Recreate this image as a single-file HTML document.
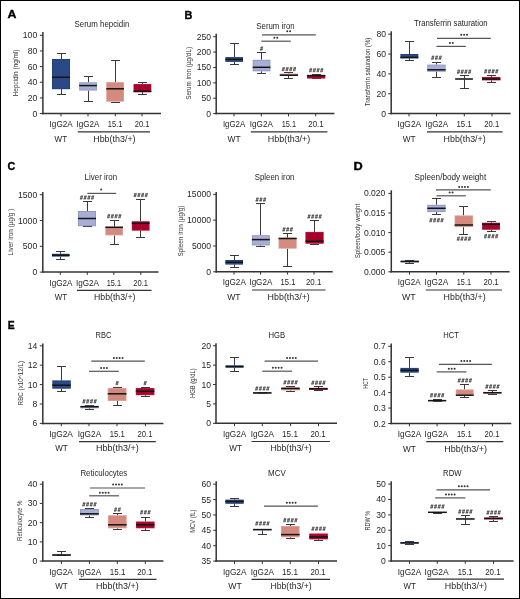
<!DOCTYPE html>
<html><head><meta charset="utf-8"><style>
html,body{margin:0;padding:0;background:#fff;}
#fig{position:relative;width:520px;height:599px;overflow:hidden;background:#fff;}
#fig svg{position:absolute;left:0;top:0;will-change:transform;}
text{font-family:"Liberation Sans", sans-serif;}
</style></head><body><div id="fig">
<svg width="520" height="599" viewBox="0 0 520 599">
<rect x="0.5" y="0.5" width="519" height="598" fill="none" stroke="#000" stroke-width="1"/>
<text x="74.60" y="27.00" font-size="8.6" text-anchor="start" fill="#262626" color="#262626" textLength="54.80" lengthAdjust="spacingAndGlyphs">Serum hepcidin</text>
<line x1="42.90" y1="32.00" x2="42.90" y2="114.35" stroke="#333333" stroke-width="1.5"/>
<line x1="42.15" y1="113.60" x2="161.00" y2="113.60" stroke="#333333" stroke-width="1.5"/>
<line x1="39.90" y1="113.60" x2="42.90" y2="113.60" stroke="#333333" stroke-width="1"/>
<text x="37.20" y="116.60" font-size="8.6" text-anchor="end" fill="#262626" color="#262626">0</text>
<line x1="39.90" y1="97.94" x2="42.90" y2="97.94" stroke="#333333" stroke-width="1"/>
<text x="37.20" y="100.94" font-size="8.6" text-anchor="end" fill="#262626" color="#262626">20</text>
<line x1="39.90" y1="82.28" x2="42.90" y2="82.28" stroke="#333333" stroke-width="1"/>
<text x="37.20" y="85.28" font-size="8.6" text-anchor="end" fill="#262626" color="#262626">40</text>
<line x1="39.90" y1="66.62" x2="42.90" y2="66.62" stroke="#333333" stroke-width="1"/>
<text x="37.20" y="69.62" font-size="8.6" text-anchor="end" fill="#262626" color="#262626">60</text>
<line x1="39.90" y1="50.96" x2="42.90" y2="50.96" stroke="#333333" stroke-width="1"/>
<text x="37.20" y="53.96" font-size="8.6" text-anchor="end" fill="#262626" color="#262626">80</text>
<line x1="39.90" y1="35.30" x2="42.90" y2="35.30" stroke="#333333" stroke-width="1"/>
<text x="37.20" y="38.30" font-size="8.6" text-anchor="end" fill="#262626" color="#262626">100</text>
<line x1="61.00" y1="113.60" x2="61.00" y2="116.40" stroke="#333333" stroke-width="1"/>
<line x1="88.00" y1="113.60" x2="88.00" y2="116.40" stroke="#333333" stroke-width="1"/>
<line x1="115.30" y1="113.60" x2="115.30" y2="116.40" stroke="#333333" stroke-width="1"/>
<line x1="142.00" y1="113.60" x2="142.00" y2="116.40" stroke="#333333" stroke-width="1"/>
<text x="61.15" y="127.10" font-size="8.8" text-anchor="middle" fill="#262626" color="#262626" textLength="23.10" lengthAdjust="spacingAndGlyphs">IgG2A</text>
<text x="88.05" y="127.10" font-size="8.8" text-anchor="middle" fill="#262626" color="#262626" textLength="22.90" lengthAdjust="spacingAndGlyphs">IgG2A</text>
<text x="115.10" y="127.10" font-size="8.8" text-anchor="middle" fill="#262626" color="#262626" textLength="14.60" lengthAdjust="spacingAndGlyphs">15.1</text>
<text x="142.05" y="127.10" font-size="8.8" text-anchor="middle" fill="#262626" color="#262626" textLength="14.70" lengthAdjust="spacingAndGlyphs">20.1</text>
<line x1="77.80" y1="131.80" x2="150.00" y2="131.80" stroke="#333" stroke-width="1.2"/>
<text x="60.85" y="141.60" font-size="8.8" text-anchor="middle" fill="#262626" color="#262626" textLength="12.50" lengthAdjust="spacingAndGlyphs">WT</text>
<text x="114.40" y="141.60" font-size="8.8" text-anchor="middle" fill="#262626" color="#262626" textLength="42.40" lengthAdjust="spacingAndGlyphs">Hbb(th3/+)</text>
<text transform="translate(17.90,72.95) rotate(-90)" x="0" y="0" font-size="7.9" text-anchor="middle" fill="#333" color="#333" textLength="46.70" lengthAdjust="spacingAndGlyphs">Hepcidin (ng/ml)</text>
<line x1="61.50" y1="53.50" x2="61.50" y2="59.00" stroke="#3a3a3a" stroke-width="1"/>
<line x1="61.50" y1="89.20" x2="61.50" y2="94.50" stroke="#3a3a3a" stroke-width="1"/>
<line x1="57.00" y1="53.50" x2="66.00" y2="53.50" stroke="#3a3a3a" stroke-width="1"/>
<line x1="57.00" y1="94.50" x2="66.00" y2="94.50" stroke="#3a3a3a" stroke-width="1"/>
<rect x="52.00" y="59.00" width="18.00" height="30.20" fill="#213d72"/>
<rect x="52.80" y="59.80" width="16.40" height="28.60" fill="#2b4a85"/>
<line x1="52.00" y1="77.30" x2="70.00" y2="77.30" stroke="#141414" stroke-width="1.5"/>
<line x1="88.50" y1="76.50" x2="88.50" y2="82.30" stroke="#3a3a3a" stroke-width="1"/>
<line x1="88.50" y1="90.50" x2="88.50" y2="101.50" stroke="#3a3a3a" stroke-width="1"/>
<line x1="84.00" y1="76.50" x2="93.00" y2="76.50" stroke="#3a3a3a" stroke-width="1"/>
<line x1="84.00" y1="101.50" x2="93.00" y2="101.50" stroke="#3a3a3a" stroke-width="1"/>
<rect x="79.20" y="82.30" width="17.70" height="8.20" fill="#8c93c2"/>
<rect x="80.00" y="83.10" width="16.10" height="6.60" fill="#a8aed4"/>
<line x1="79.20" y1="85.60" x2="96.90" y2="85.60" stroke="#141414" stroke-width="1.5"/>
<line x1="115.50" y1="60.50" x2="115.50" y2="82.10" stroke="#3a3a3a" stroke-width="1"/>
<line x1="115.50" y1="101.70" x2="115.50" y2="102.50" stroke="#3a3a3a" stroke-width="1"/>
<line x1="111.00" y1="60.50" x2="120.00" y2="60.50" stroke="#3a3a3a" stroke-width="1"/>
<line x1="111.00" y1="102.50" x2="120.00" y2="102.50" stroke="#3a3a3a" stroke-width="1"/>
<rect x="106.20" y="82.10" width="17.80" height="19.60" fill="#e0a298"/>
<rect x="107.00" y="82.90" width="16.20" height="18.00" fill="#d38a7f"/>
<line x1="106.20" y1="88.80" x2="124.00" y2="88.80" stroke="#141414" stroke-width="1.5"/>
<line x1="142.50" y1="82.50" x2="142.50" y2="84.00" stroke="#3a3a3a" stroke-width="1"/>
<line x1="142.50" y1="92.30" x2="142.50" y2="94.50" stroke="#3a3a3a" stroke-width="1"/>
<line x1="138.00" y1="82.50" x2="147.00" y2="82.50" stroke="#3a3a3a" stroke-width="1"/>
<line x1="138.00" y1="94.50" x2="147.00" y2="94.50" stroke="#3a3a3a" stroke-width="1"/>
<rect x="133.50" y="84.00" width="17.80" height="8.30" fill="#b8183c"/>
<rect x="134.30" y="84.80" width="16.20" height="6.70" fill="#a8002a"/>
<line x1="133.50" y1="91.30" x2="151.30" y2="91.30" stroke="#141414" stroke-width="1.5"/>
<text x="256.30" y="28.80" font-size="8.6" text-anchor="start" fill="#262626" color="#262626" textLength="38.30" lengthAdjust="spacingAndGlyphs">Serum iron</text>
<line x1="216.20" y1="33.80" x2="216.20" y2="114.35" stroke="#333333" stroke-width="1.5"/>
<line x1="215.45" y1="113.60" x2="334.40" y2="113.60" stroke="#333333" stroke-width="1.5"/>
<line x1="213.20" y1="113.60" x2="216.20" y2="113.60" stroke="#333333" stroke-width="1"/>
<text x="211.00" y="116.60" font-size="8.6" text-anchor="end" fill="#262626" color="#262626">0</text>
<line x1="213.20" y1="98.22" x2="216.20" y2="98.22" stroke="#333333" stroke-width="1"/>
<text x="211.00" y="101.22" font-size="8.6" text-anchor="end" fill="#262626" color="#262626">50</text>
<line x1="213.20" y1="82.84" x2="216.20" y2="82.84" stroke="#333333" stroke-width="1"/>
<text x="211.00" y="85.84" font-size="8.6" text-anchor="end" fill="#262626" color="#262626">100</text>
<line x1="213.20" y1="67.46" x2="216.20" y2="67.46" stroke="#333333" stroke-width="1"/>
<text x="211.00" y="70.46" font-size="8.6" text-anchor="end" fill="#262626" color="#262626">150</text>
<line x1="213.20" y1="52.08" x2="216.20" y2="52.08" stroke="#333333" stroke-width="1"/>
<text x="211.00" y="55.08" font-size="8.6" text-anchor="end" fill="#262626" color="#262626">200</text>
<line x1="213.20" y1="36.70" x2="216.20" y2="36.70" stroke="#333333" stroke-width="1"/>
<text x="211.00" y="39.70" font-size="8.6" text-anchor="end" fill="#262626" color="#262626">250</text>
<line x1="234.00" y1="113.60" x2="234.00" y2="116.40" stroke="#333333" stroke-width="1"/>
<line x1="261.30" y1="113.60" x2="261.30" y2="116.40" stroke="#333333" stroke-width="1"/>
<line x1="288.50" y1="113.60" x2="288.50" y2="116.40" stroke="#333333" stroke-width="1"/>
<line x1="315.70" y1="113.60" x2="315.70" y2="116.40" stroke="#333333" stroke-width="1"/>
<text x="234.05" y="127.10" font-size="8.8" text-anchor="middle" fill="#262626" color="#262626" textLength="22.30" lengthAdjust="spacingAndGlyphs">IgG2A</text>
<text x="261.35" y="127.10" font-size="8.8" text-anchor="middle" fill="#262626" color="#262626" textLength="23.10" lengthAdjust="spacingAndGlyphs">IgG2A</text>
<text x="288.85" y="127.10" font-size="8.8" text-anchor="middle" fill="#262626" color="#262626" textLength="14.30" lengthAdjust="spacingAndGlyphs">15.1</text>
<text x="316.00" y="127.10" font-size="8.8" text-anchor="middle" fill="#262626" color="#262626" textLength="15.40" lengthAdjust="spacingAndGlyphs">20.1</text>
<line x1="250.80" y1="131.80" x2="327.40" y2="131.80" stroke="#333" stroke-width="1.2"/>
<text x="234.05" y="141.60" font-size="8.8" text-anchor="middle" fill="#262626" color="#262626" textLength="13.10" lengthAdjust="spacingAndGlyphs">WT</text>
<text x="289.05" y="141.60" font-size="8.8" text-anchor="middle" fill="#262626" color="#262626" textLength="42.50" lengthAdjust="spacingAndGlyphs">Hbb(th3/+)</text>
<text transform="translate(190.80,73.40) rotate(-90)" x="0" y="0" font-size="7.9" text-anchor="middle" fill="#333" color="#333" textLength="52.80" lengthAdjust="spacingAndGlyphs">Serum iron (µg/dL)</text>
<line x1="234.50" y1="43.50" x2="234.50" y2="57.10" stroke="#3a3a3a" stroke-width="1"/>
<line x1="234.50" y1="61.90" x2="234.50" y2="64.50" stroke="#3a3a3a" stroke-width="1"/>
<line x1="230.00" y1="43.50" x2="239.00" y2="43.50" stroke="#3a3a3a" stroke-width="1"/>
<line x1="230.00" y1="64.50" x2="239.00" y2="64.50" stroke="#3a3a3a" stroke-width="1"/>
<rect x="225.40" y="57.10" width="17.60" height="4.80" fill="#213d72"/>
<rect x="226.20" y="57.90" width="16.00" height="3.20" fill="#2b4a85"/>
<line x1="225.40" y1="59.40" x2="243.00" y2="59.40" stroke="#141414" stroke-width="1.5"/>
<line x1="261.50" y1="52.50" x2="261.50" y2="59.80" stroke="#3a3a3a" stroke-width="1"/>
<line x1="261.50" y1="71.30" x2="261.50" y2="73.50" stroke="#3a3a3a" stroke-width="1"/>
<line x1="257.00" y1="52.50" x2="266.00" y2="52.50" stroke="#3a3a3a" stroke-width="1"/>
<line x1="257.00" y1="73.50" x2="266.00" y2="73.50" stroke="#3a3a3a" stroke-width="1"/>
<rect x="252.70" y="59.80" width="17.70" height="11.50" fill="#8c93c2"/>
<rect x="253.50" y="60.60" width="16.10" height="9.90" fill="#a8aed4"/>
<line x1="252.70" y1="67.30" x2="270.40" y2="67.30" stroke="#141414" stroke-width="1.5"/>
<path d="M260.50,50.70L261.50,46.50M261.70,50.70L262.70,46.50M260.46,47.70L263.06,47.70M260.04,49.50L262.64,49.50" fill="none" stroke="#4a4a4a" stroke-width="0.8"/>
<line x1="288.50" y1="72.50" x2="288.50" y2="73.50" stroke="#3a3a3a" stroke-width="1"/>
<line x1="288.50" y1="75.80" x2="288.50" y2="78.50" stroke="#3a3a3a" stroke-width="1"/>
<line x1="284.00" y1="72.50" x2="293.00" y2="72.50" stroke="#3a3a3a" stroke-width="1"/>
<line x1="284.00" y1="78.50" x2="293.00" y2="78.50" stroke="#3a3a3a" stroke-width="1"/>
<rect x="279.80" y="73.50" width="18.20" height="2.30" fill="#e0a298"/>
<rect x="280.60" y="74.30" width="16.60" height="0.70" fill="#d38a7f"/>
<line x1="279.80" y1="75.20" x2="298.00" y2="75.20" stroke="#141414" stroke-width="1.5"/>
<path d="M282.27,71.20L283.27,67.00M283.47,71.20L284.47,67.00M282.23,68.20L284.83,68.20M281.81,70.00L284.41,70.00M285.99,71.20L286.99,67.00M287.19,71.20L288.19,67.00M285.95,68.20L288.55,68.20M285.53,70.00L288.13,70.00M289.71,71.20L290.71,67.00M290.91,71.20L291.91,67.00M289.67,68.20L292.27,68.20M289.25,70.00L291.85,70.00M293.43,71.20L294.43,67.00M294.63,71.20L295.63,67.00M293.39,68.20L295.99,68.20M292.97,70.00L295.57,70.00" fill="none" stroke="#4a4a4a" stroke-width="0.8"/>
<line x1="316.50" y1="74.50" x2="316.50" y2="75.00" stroke="#3a3a3a" stroke-width="1"/>
<line x1="316.50" y1="78.60" x2="316.50" y2="78.50" stroke="#3a3a3a" stroke-width="1"/>
<line x1="312.00" y1="74.50" x2="321.00" y2="74.50" stroke="#3a3a3a" stroke-width="1"/>
<line x1="312.00" y1="78.50" x2="321.00" y2="78.50" stroke="#3a3a3a" stroke-width="1"/>
<rect x="307.00" y="75.00" width="18.30" height="3.60" fill="#b8183c"/>
<rect x="307.80" y="75.80" width="16.70" height="2.00" fill="#a8002a"/>
<line x1="307.00" y1="75.60" x2="325.30" y2="75.60" stroke="#141414" stroke-width="1.5"/>
<path d="M309.52,72.30L310.52,68.10M310.72,72.30L311.72,68.10M309.48,69.30L312.08,69.30M309.06,71.10L311.66,71.10M313.24,72.30L314.24,68.10M314.44,72.30L315.44,68.10M313.20,69.30L315.80,69.30M312.78,71.10L315.38,71.10M316.96,72.30L317.96,68.10M318.16,72.30L319.16,68.10M316.92,69.30L319.52,69.30M316.50,71.10L319.10,71.10M320.68,72.30L321.68,68.10M321.88,72.30L322.88,68.10M320.64,69.30L323.24,69.30M320.22,71.10L322.82,71.10" fill="none" stroke="#4a4a4a" stroke-width="0.8"/>
<line x1="262.00" y1="34.80" x2="315.80" y2="34.80" stroke="#555555" stroke-width="1.2"/>
<circle cx="287.25" cy="31.30" r="1.0" fill="#333"/>
<circle cx="290.15" cy="31.30" r="1.0" fill="#333"/>
<line x1="261.30" y1="41.20" x2="290.80" y2="41.20" stroke="#555555" stroke-width="1.2"/>
<circle cx="274.35" cy="37.70" r="1.0" fill="#333"/>
<circle cx="277.25" cy="37.70" r="1.0" fill="#333"/>
<text x="414.10" y="26.20" font-size="8.6" text-anchor="start" fill="#262626" color="#262626" textLength="73.50" lengthAdjust="spacingAndGlyphs">Transferrin saturation</text>
<line x1="391.20" y1="31.30" x2="391.20" y2="114.35" stroke="#333333" stroke-width="1.5"/>
<line x1="390.45" y1="113.60" x2="510.60" y2="113.60" stroke="#333333" stroke-width="1.5"/>
<line x1="388.20" y1="113.60" x2="391.20" y2="113.60" stroke="#333333" stroke-width="1"/>
<text x="386.00" y="116.60" font-size="8.6" text-anchor="end" fill="#262626" color="#262626">0</text>
<line x1="388.20" y1="93.75" x2="391.20" y2="93.75" stroke="#333333" stroke-width="1"/>
<text x="386.00" y="96.75" font-size="8.6" text-anchor="end" fill="#262626" color="#262626">20</text>
<line x1="388.20" y1="73.90" x2="391.20" y2="73.90" stroke="#333333" stroke-width="1"/>
<text x="386.00" y="76.90" font-size="8.6" text-anchor="end" fill="#262626" color="#262626">40</text>
<line x1="388.20" y1="54.05" x2="391.20" y2="54.05" stroke="#333333" stroke-width="1"/>
<text x="386.00" y="57.05" font-size="8.6" text-anchor="end" fill="#262626" color="#262626">60</text>
<line x1="388.20" y1="34.20" x2="391.20" y2="34.20" stroke="#333333" stroke-width="1"/>
<text x="386.00" y="37.20" font-size="8.6" text-anchor="end" fill="#262626" color="#262626">80</text>
<line x1="409.00" y1="113.60" x2="409.00" y2="116.40" stroke="#333333" stroke-width="1"/>
<line x1="436.50" y1="113.60" x2="436.50" y2="116.40" stroke="#333333" stroke-width="1"/>
<line x1="464.30" y1="113.60" x2="464.30" y2="116.40" stroke="#333333" stroke-width="1"/>
<line x1="492.00" y1="113.60" x2="492.00" y2="116.40" stroke="#333333" stroke-width="1"/>
<text x="409.25" y="127.10" font-size="8.8" text-anchor="middle" fill="#262626" color="#262626" textLength="23.90" lengthAdjust="spacingAndGlyphs">IgG2A</text>
<text x="436.80" y="127.10" font-size="8.8" text-anchor="middle" fill="#262626" color="#262626" textLength="22.40" lengthAdjust="spacingAndGlyphs">IgG2A</text>
<text x="464.10" y="127.10" font-size="8.8" text-anchor="middle" fill="#262626" color="#262626" textLength="15.20" lengthAdjust="spacingAndGlyphs">15.1</text>
<text x="491.75" y="127.10" font-size="8.8" text-anchor="middle" fill="#262626" color="#262626" textLength="14.90" lengthAdjust="spacingAndGlyphs">20.1</text>
<line x1="427.00" y1="131.80" x2="502.50" y2="131.80" stroke="#333" stroke-width="1.2"/>
<text x="409.25" y="141.60" font-size="8.8" text-anchor="middle" fill="#262626" color="#262626" textLength="12.90" lengthAdjust="spacingAndGlyphs">WT</text>
<text x="464.65" y="141.60" font-size="8.8" text-anchor="middle" fill="#262626" color="#262626" textLength="42.10" lengthAdjust="spacingAndGlyphs">Hbb(th3/+)</text>
<text transform="translate(369.90,72.00) rotate(-90)" x="0" y="0" font-size="7.9" text-anchor="middle" fill="#333" color="#333" textLength="68.60" lengthAdjust="spacingAndGlyphs">Transferrin saturation (%)</text>
<line x1="409.50" y1="41.50" x2="409.50" y2="54.00" stroke="#3a3a3a" stroke-width="1"/>
<line x1="409.50" y1="58.40" x2="409.50" y2="60.50" stroke="#3a3a3a" stroke-width="1"/>
<line x1="405.00" y1="41.50" x2="414.00" y2="41.50" stroke="#3a3a3a" stroke-width="1"/>
<line x1="405.00" y1="60.50" x2="414.00" y2="60.50" stroke="#3a3a3a" stroke-width="1"/>
<rect x="400.40" y="54.00" width="17.90" height="4.40" fill="#213d72"/>
<rect x="401.20" y="54.80" width="16.30" height="2.80" fill="#2b4a85"/>
<line x1="400.40" y1="57.40" x2="418.30" y2="57.40" stroke="#141414" stroke-width="1.5"/>
<line x1="436.50" y1="62.50" x2="436.50" y2="64.60" stroke="#3a3a3a" stroke-width="1"/>
<line x1="436.50" y1="71.70" x2="436.50" y2="77.50" stroke="#3a3a3a" stroke-width="1"/>
<line x1="432.00" y1="62.50" x2="441.00" y2="62.50" stroke="#3a3a3a" stroke-width="1"/>
<line x1="432.00" y1="77.50" x2="441.00" y2="77.50" stroke="#3a3a3a" stroke-width="1"/>
<rect x="427.30" y="64.60" width="18.30" height="7.10" fill="#8c93c2"/>
<rect x="428.10" y="65.40" width="16.70" height="5.50" fill="#a8aed4"/>
<line x1="427.30" y1="69.80" x2="445.60" y2="69.80" stroke="#141414" stroke-width="1.5"/>
<path d="M431.68,59.80L432.68,55.60M432.88,59.80L433.88,55.60M431.64,56.80L434.24,56.80M431.22,58.60L433.82,58.60M435.40,59.80L436.40,55.60M436.60,59.80L437.60,55.60M435.36,56.80L437.96,56.80M434.94,58.60L437.54,58.60M439.12,59.80L440.12,55.60M440.32,59.80L441.32,55.60M439.08,56.80L441.68,56.80M438.66,58.60L441.26,58.60" fill="none" stroke="#4a4a4a" stroke-width="0.8"/>
<line x1="464.50" y1="75.50" x2="464.50" y2="78.60" stroke="#3a3a3a" stroke-width="1"/>
<line x1="464.50" y1="79.40" x2="464.50" y2="88.50" stroke="#3a3a3a" stroke-width="1"/>
<line x1="460.00" y1="75.50" x2="469.00" y2="75.50" stroke="#3a3a3a" stroke-width="1"/>
<line x1="460.00" y1="88.50" x2="469.00" y2="88.50" stroke="#3a3a3a" stroke-width="1"/>
<rect x="455.20" y="78.60" width="17.70" height="0.80" fill="#e0a298"/>
<line x1="455.20" y1="79.00" x2="472.90" y2="79.00" stroke="#141414" stroke-width="1.5"/>
<path d="M457.42,73.80L458.42,69.60M458.62,73.80L459.62,69.60M457.38,70.80L459.98,70.80M456.96,72.60L459.56,72.60M461.14,73.80L462.14,69.60M462.34,73.80L463.34,69.60M461.10,70.80L463.70,70.80M460.68,72.60L463.28,72.60M464.86,73.80L465.86,69.60M466.06,73.80L467.06,69.60M464.82,70.80L467.42,70.80M464.40,72.60L467.00,72.60M468.58,73.80L469.58,69.60M469.78,73.80L470.78,69.60M468.54,70.80L471.14,70.80M468.12,72.60L470.72,72.60" fill="none" stroke="#4a4a4a" stroke-width="0.8"/>
<line x1="491.50" y1="75.50" x2="491.50" y2="76.90" stroke="#3a3a3a" stroke-width="1"/>
<line x1="491.50" y1="80.40" x2="491.50" y2="82.50" stroke="#3a3a3a" stroke-width="1"/>
<line x1="487.00" y1="75.50" x2="496.00" y2="75.50" stroke="#3a3a3a" stroke-width="1"/>
<line x1="487.00" y1="82.50" x2="496.00" y2="82.50" stroke="#3a3a3a" stroke-width="1"/>
<rect x="482.00" y="76.90" width="18.40" height="3.50" fill="#b8183c"/>
<rect x="482.80" y="77.70" width="16.80" height="1.90" fill="#a8002a"/>
<line x1="482.00" y1="79.00" x2="500.40" y2="79.00" stroke="#141414" stroke-width="1.5"/>
<path d="M484.57,73.40L485.57,69.20M485.77,73.40L486.77,69.20M484.53,70.40L487.13,70.40M484.11,72.20L486.71,72.20M488.29,73.40L489.29,69.20M489.49,73.40L490.49,69.20M488.25,70.40L490.85,70.40M487.83,72.20L490.43,72.20M492.01,73.40L493.01,69.20M493.21,73.40L494.21,69.20M491.97,70.40L494.57,70.40M491.55,72.20L494.15,72.20M495.73,73.40L496.73,69.20M496.93,73.40L497.93,69.20M495.69,70.40L498.29,70.40M495.27,72.20L497.87,72.20" fill="none" stroke="#4a4a4a" stroke-width="0.8"/>
<line x1="437.00" y1="38.30" x2="490.80" y2="38.30" stroke="#555555" stroke-width="1.2"/>
<circle cx="461.20" cy="34.70" r="1.0" fill="#333"/>
<circle cx="464.10" cy="34.70" r="1.0" fill="#333"/>
<circle cx="467.00" cy="34.70" r="1.0" fill="#333"/>
<line x1="436.50" y1="46.40" x2="465.80" y2="46.40" stroke="#555555" stroke-width="1.2"/>
<circle cx="449.85" cy="43.00" r="1.0" fill="#333"/>
<circle cx="452.75" cy="43.00" r="1.0" fill="#333"/>
<text x="84.60" y="180.00" font-size="8.6" text-anchor="start" fill="#262626" color="#262626" textLength="32.60" lengthAdjust="spacingAndGlyphs">Liver iron</text>
<line x1="42.80" y1="191.90" x2="42.80" y2="272.85" stroke="#333333" stroke-width="1.5"/>
<line x1="42.05" y1="272.10" x2="158.50" y2="272.10" stroke="#333333" stroke-width="1.5"/>
<line x1="39.80" y1="272.10" x2="42.80" y2="272.10" stroke="#333333" stroke-width="1"/>
<text x="37.20" y="275.10" font-size="8.6" text-anchor="end" fill="#262626" color="#262626">0</text>
<line x1="39.80" y1="246.30" x2="42.80" y2="246.30" stroke="#333333" stroke-width="1"/>
<text x="37.20" y="249.30" font-size="8.6" text-anchor="end" fill="#262626" color="#262626">500</text>
<line x1="39.80" y1="220.50" x2="42.80" y2="220.50" stroke="#333333" stroke-width="1"/>
<text x="37.20" y="223.50" font-size="8.6" text-anchor="end" fill="#262626" color="#262626">1000</text>
<line x1="39.80" y1="194.70" x2="42.80" y2="194.70" stroke="#333333" stroke-width="1"/>
<text x="37.20" y="197.70" font-size="8.6" text-anchor="end" fill="#262626" color="#262626">1500</text>
<line x1="60.30" y1="272.10" x2="60.30" y2="274.90" stroke="#333333" stroke-width="1"/>
<line x1="87.30" y1="272.10" x2="87.30" y2="274.90" stroke="#333333" stroke-width="1"/>
<line x1="113.80" y1="272.10" x2="113.80" y2="274.90" stroke="#333333" stroke-width="1"/>
<line x1="140.80" y1="272.10" x2="140.80" y2="274.90" stroke="#333333" stroke-width="1"/>
<text x="61.00" y="285.60" font-size="8.8" text-anchor="middle" fill="#262626" color="#262626" textLength="23.00" lengthAdjust="spacingAndGlyphs">IgG2A</text>
<text x="87.50" y="285.60" font-size="8.8" text-anchor="middle" fill="#262626" color="#262626" textLength="23.00" lengthAdjust="spacingAndGlyphs">IgG2A</text>
<text x="113.85" y="285.60" font-size="8.8" text-anchor="middle" fill="#262626" color="#262626" textLength="14.30" lengthAdjust="spacingAndGlyphs">15.1</text>
<text x="140.65" y="285.60" font-size="8.8" text-anchor="middle" fill="#262626" color="#262626" textLength="14.70" lengthAdjust="spacingAndGlyphs">20.1</text>
<line x1="76.90" y1="290.30" x2="151.50" y2="290.30" stroke="#333" stroke-width="1.2"/>
<text x="61.00" y="300.10" font-size="8.8" text-anchor="middle" fill="#262626" color="#262626" textLength="12.40" lengthAdjust="spacingAndGlyphs">WT</text>
<text x="114.75" y="300.10" font-size="8.8" text-anchor="middle" fill="#262626" color="#262626" textLength="41.50" lengthAdjust="spacingAndGlyphs">Hbb(th3/+)</text>
<text transform="translate(13.40,232.10) rotate(-90)" x="0" y="0" font-size="7.9" text-anchor="middle" fill="#333" color="#333" textLength="46.60" lengthAdjust="spacingAndGlyphs">Liver iron (µg/g )</text>
<line x1="60.50" y1="251.50" x2="60.50" y2="253.80" stroke="#3a3a3a" stroke-width="1"/>
<line x1="60.50" y1="256.60" x2="60.50" y2="259.50" stroke="#3a3a3a" stroke-width="1"/>
<line x1="56.00" y1="251.50" x2="65.00" y2="251.50" stroke="#3a3a3a" stroke-width="1"/>
<line x1="56.00" y1="259.50" x2="65.00" y2="259.50" stroke="#3a3a3a" stroke-width="1"/>
<rect x="52.00" y="253.80" width="17.50" height="2.80" fill="#213d72"/>
<rect x="52.80" y="254.60" width="15.90" height="1.20" fill="#2b4a85"/>
<line x1="52.00" y1="255.20" x2="69.50" y2="255.20" stroke="#141414" stroke-width="1.5"/>
<line x1="87.50" y1="201.50" x2="87.50" y2="211.00" stroke="#3a3a3a" stroke-width="1"/>
<line x1="87.50" y1="226.20" x2="87.50" y2="226.50" stroke="#3a3a3a" stroke-width="1"/>
<line x1="83.00" y1="201.50" x2="92.00" y2="201.50" stroke="#3a3a3a" stroke-width="1"/>
<line x1="83.00" y1="226.50" x2="92.00" y2="226.50" stroke="#3a3a3a" stroke-width="1"/>
<rect x="78.00" y="211.00" width="18.00" height="15.20" fill="#8c93c2"/>
<rect x="78.80" y="211.80" width="16.40" height="13.60" fill="#a8aed4"/>
<line x1="78.00" y1="218.50" x2="96.00" y2="218.50" stroke="#141414" stroke-width="1.5"/>
<path d="M80.37,199.60L81.37,195.40M81.57,199.60L82.57,195.40M80.33,196.60L82.93,196.60M79.91,198.40L82.51,198.40M84.09,199.60L85.09,195.40M85.29,199.60L86.29,195.40M84.05,196.60L86.65,196.60M83.63,198.40L86.23,198.40M87.81,199.60L88.81,195.40M89.01,199.60L90.01,195.40M87.77,196.60L90.37,196.60M87.35,198.40L89.95,198.40M91.53,199.60L92.53,195.40M92.73,199.60L93.73,195.40M91.49,196.60L94.09,196.60M91.07,198.40L93.67,198.40" fill="none" stroke="#4a4a4a" stroke-width="0.8"/>
<line x1="114.50" y1="220.50" x2="114.50" y2="226.80" stroke="#3a3a3a" stroke-width="1"/>
<line x1="114.50" y1="235.40" x2="114.50" y2="244.50" stroke="#3a3a3a" stroke-width="1"/>
<line x1="110.00" y1="220.50" x2="119.00" y2="220.50" stroke="#3a3a3a" stroke-width="1"/>
<line x1="110.00" y1="244.50" x2="119.00" y2="244.50" stroke="#3a3a3a" stroke-width="1"/>
<rect x="105.30" y="226.80" width="17.70" height="8.60" fill="#e0a298"/>
<rect x="106.10" y="227.60" width="16.10" height="7.00" fill="#d38a7f"/>
<line x1="105.30" y1="227.30" x2="123.00" y2="227.30" stroke="#141414" stroke-width="1.5"/>
<path d="M107.52,218.30L108.52,214.10M108.72,218.30L109.72,214.10M107.48,215.30L110.08,215.30M107.06,217.10L109.66,217.10M111.24,218.30L112.24,214.10M112.44,218.30L113.44,214.10M111.20,215.30L113.80,215.30M110.78,217.10L113.38,217.10M114.96,218.30L115.96,214.10M116.16,218.30L117.16,214.10M114.92,215.30L117.52,215.30M114.50,217.10L117.10,217.10M118.68,218.30L119.68,214.10M119.88,218.30L120.88,214.10M118.64,215.30L121.24,215.30M118.22,217.10L120.82,217.10" fill="none" stroke="#4a4a4a" stroke-width="0.8"/>
<line x1="140.50" y1="199.50" x2="140.50" y2="221.20" stroke="#3a3a3a" stroke-width="1"/>
<line x1="140.50" y1="230.70" x2="140.50" y2="237.50" stroke="#3a3a3a" stroke-width="1"/>
<line x1="136.00" y1="199.50" x2="145.00" y2="199.50" stroke="#3a3a3a" stroke-width="1"/>
<line x1="136.00" y1="237.50" x2="145.00" y2="237.50" stroke="#3a3a3a" stroke-width="1"/>
<rect x="131.80" y="221.20" width="17.80" height="9.50" fill="#b8183c"/>
<rect x="132.60" y="222.00" width="16.20" height="7.90" fill="#a8002a"/>
<line x1="131.80" y1="223.30" x2="149.60" y2="223.30" stroke="#141414" stroke-width="1.5"/>
<path d="M134.07,197.10L135.07,192.90M135.27,197.10L136.27,192.90M134.03,194.10L136.63,194.10M133.61,195.90L136.21,195.90M137.79,197.10L138.79,192.90M138.99,197.10L139.99,192.90M137.75,194.10L140.35,194.10M137.33,195.90L139.93,195.90M141.51,197.10L142.51,192.90M142.71,197.10L143.71,192.90M141.47,194.10L144.07,194.10M141.05,195.90L143.65,195.90M145.23,197.10L146.23,192.90M146.43,197.10L147.43,192.90M145.19,194.10L147.79,194.10M144.77,195.90L147.37,195.90" fill="none" stroke="#4a4a4a" stroke-width="0.8"/>
<line x1="87.30" y1="193.40" x2="116.20" y2="193.40" stroke="#555555" stroke-width="1.2"/>
<circle cx="101.20" cy="189.40" r="1.0" fill="#333"/>
<text x="254.80" y="180.00" font-size="8.6" text-anchor="start" fill="#262626" color="#262626" textLength="39.60" lengthAdjust="spacingAndGlyphs">Spleen iron</text>
<line x1="216.20" y1="192.10" x2="216.20" y2="272.55" stroke="#333333" stroke-width="1.5"/>
<line x1="215.45" y1="271.80" x2="332.70" y2="271.80" stroke="#333333" stroke-width="1.5"/>
<line x1="213.20" y1="271.80" x2="216.20" y2="271.80" stroke="#333333" stroke-width="1"/>
<text x="211.00" y="274.80" font-size="8.6" text-anchor="end" fill="#262626" color="#262626">0</text>
<line x1="213.20" y1="246.00" x2="216.20" y2="246.00" stroke="#333333" stroke-width="1"/>
<text x="211.00" y="249.00" font-size="8.6" text-anchor="end" fill="#262626" color="#262626">5000</text>
<line x1="213.20" y1="220.20" x2="216.20" y2="220.20" stroke="#333333" stroke-width="1"/>
<text x="211.00" y="223.20" font-size="8.6" text-anchor="end" fill="#262626" color="#262626">10000</text>
<line x1="213.20" y1="194.40" x2="216.20" y2="194.40" stroke="#333333" stroke-width="1"/>
<text x="211.00" y="197.40" font-size="8.6" text-anchor="end" fill="#262626" color="#262626">15000</text>
<line x1="234.00" y1="271.80" x2="234.00" y2="274.60" stroke="#333333" stroke-width="1"/>
<line x1="260.60" y1="271.80" x2="260.60" y2="274.60" stroke="#333333" stroke-width="1"/>
<line x1="287.40" y1="271.80" x2="287.40" y2="274.60" stroke="#333333" stroke-width="1"/>
<line x1="314.00" y1="271.80" x2="314.00" y2="274.60" stroke="#333333" stroke-width="1"/>
<text x="234.30" y="285.30" font-size="8.8" text-anchor="middle" fill="#262626" color="#262626" textLength="23.00" lengthAdjust="spacingAndGlyphs">IgG2A</text>
<text x="260.85" y="285.30" font-size="8.8" text-anchor="middle" fill="#262626" color="#262626" textLength="22.90" lengthAdjust="spacingAndGlyphs">IgG2A</text>
<text x="288.00" y="285.30" font-size="8.8" text-anchor="middle" fill="#262626" color="#262626" textLength="14.80" lengthAdjust="spacingAndGlyphs">15.1</text>
<text x="313.60" y="285.30" font-size="8.8" text-anchor="middle" fill="#262626" color="#262626" textLength="15.40" lengthAdjust="spacingAndGlyphs">20.1</text>
<line x1="252.00" y1="290.00" x2="325.50" y2="290.00" stroke="#333" stroke-width="1.2"/>
<text x="233.90" y="299.80" font-size="8.8" text-anchor="middle" fill="#262626" color="#262626" textLength="13.40" lengthAdjust="spacingAndGlyphs">WT</text>
<text x="288.70" y="299.80" font-size="8.8" text-anchor="middle" fill="#262626" color="#262626" textLength="42.20" lengthAdjust="spacingAndGlyphs">Hbb(th3/+)</text>
<text transform="translate(182.80,231.05) rotate(-90)" x="0" y="0" font-size="7.9" text-anchor="middle" fill="#333" color="#333" textLength="50.90" lengthAdjust="spacingAndGlyphs">Spleen iron (µg/g)</text>
<line x1="234.50" y1="255.50" x2="234.50" y2="260.00" stroke="#3a3a3a" stroke-width="1"/>
<line x1="234.50" y1="264.60" x2="234.50" y2="267.50" stroke="#3a3a3a" stroke-width="1"/>
<line x1="230.00" y1="255.50" x2="239.00" y2="255.50" stroke="#3a3a3a" stroke-width="1"/>
<line x1="230.00" y1="267.50" x2="239.00" y2="267.50" stroke="#3a3a3a" stroke-width="1"/>
<rect x="225.40" y="260.00" width="17.60" height="4.60" fill="#213d72"/>
<rect x="226.20" y="260.80" width="16.00" height="3.00" fill="#2b4a85"/>
<line x1="225.40" y1="262.30" x2="243.00" y2="262.30" stroke="#141414" stroke-width="1.5"/>
<line x1="260.50" y1="203.50" x2="260.50" y2="235.20" stroke="#3a3a3a" stroke-width="1"/>
<line x1="260.50" y1="245.40" x2="260.50" y2="246.50" stroke="#3a3a3a" stroke-width="1"/>
<line x1="256.00" y1="203.50" x2="265.00" y2="203.50" stroke="#3a3a3a" stroke-width="1"/>
<line x1="256.00" y1="246.50" x2="265.00" y2="246.50" stroke="#3a3a3a" stroke-width="1"/>
<rect x="251.90" y="235.20" width="17.90" height="10.20" fill="#8c93c2"/>
<rect x="252.70" y="236.00" width="16.30" height="8.60" fill="#a8aed4"/>
<line x1="251.90" y1="239.60" x2="269.80" y2="239.60" stroke="#141414" stroke-width="1.5"/>
<path d="M256.08,201.70L257.08,197.50M257.28,201.70L258.28,197.50M256.04,198.70L258.64,198.70M255.62,200.50L258.22,200.50M259.80,201.70L260.80,197.50M261.00,201.70L262.00,197.50M259.76,198.70L262.36,198.70M259.34,200.50L261.94,200.50M263.52,201.70L264.52,197.50M264.72,201.70L265.72,197.50M263.48,198.70L266.08,198.70M263.06,200.50L265.66,200.50" fill="none" stroke="#4a4a4a" stroke-width="0.8"/>
<line x1="287.50" y1="233.50" x2="287.50" y2="237.70" stroke="#3a3a3a" stroke-width="1"/>
<line x1="287.50" y1="248.70" x2="287.50" y2="266.50" stroke="#3a3a3a" stroke-width="1"/>
<line x1="283.00" y1="233.50" x2="292.00" y2="233.50" stroke="#3a3a3a" stroke-width="1"/>
<line x1="283.00" y1="266.50" x2="292.00" y2="266.50" stroke="#3a3a3a" stroke-width="1"/>
<rect x="278.50" y="237.70" width="18.20" height="11.00" fill="#e0a298"/>
<rect x="279.30" y="238.50" width="16.60" height="9.40" fill="#d38a7f"/>
<line x1="278.50" y1="238.50" x2="296.70" y2="238.50" stroke="#141414" stroke-width="1.5"/>
<path d="M282.83,231.50L283.83,227.30M284.03,231.50L285.03,227.30M282.79,228.50L285.39,228.50M282.37,230.30L284.97,230.30M286.55,231.50L287.55,227.30M287.75,231.50L288.75,227.30M286.51,228.50L289.11,228.50M286.09,230.30L288.69,230.30M290.27,231.50L291.27,227.30M291.47,231.50L292.47,227.30M290.23,228.50L292.83,228.50M289.81,230.30L292.41,230.30" fill="none" stroke="#4a4a4a" stroke-width="0.8"/>
<line x1="314.50" y1="220.50" x2="314.50" y2="231.90" stroke="#3a3a3a" stroke-width="1"/>
<line x1="314.50" y1="243.80" x2="314.50" y2="244.50" stroke="#3a3a3a" stroke-width="1"/>
<line x1="310.00" y1="220.50" x2="319.00" y2="220.50" stroke="#3a3a3a" stroke-width="1"/>
<line x1="310.00" y1="244.50" x2="319.00" y2="244.50" stroke="#3a3a3a" stroke-width="1"/>
<rect x="305.40" y="231.90" width="18.30" height="11.90" fill="#b8183c"/>
<rect x="306.20" y="232.70" width="16.70" height="10.30" fill="#a8002a"/>
<line x1="305.40" y1="241.30" x2="323.70" y2="241.30" stroke="#141414" stroke-width="1.5"/>
<path d="M307.92,218.60L308.92,214.40M309.12,218.60L310.12,214.40M307.88,215.60L310.48,215.60M307.46,217.40L310.06,217.40M311.64,218.60L312.64,214.40M312.84,218.60L313.84,214.40M311.60,215.60L314.20,215.60M311.18,217.40L313.78,217.40M315.36,218.60L316.36,214.40M316.56,218.60L317.56,214.40M315.32,215.60L317.92,215.60M314.90,217.40L317.50,217.40M319.08,218.60L320.08,214.40M320.28,218.60L321.28,214.40M319.04,215.60L321.64,215.60M318.62,217.40L321.22,217.40" fill="none" stroke="#4a4a4a" stroke-width="0.8"/>
<text x="414.60" y="180.00" font-size="8.6" text-anchor="start" fill="#262626" color="#262626" textLength="71.60" lengthAdjust="spacingAndGlyphs">Spleen/body weight</text>
<line x1="391.30" y1="190.30" x2="391.30" y2="272.55" stroke="#333333" stroke-width="1.5"/>
<line x1="390.55" y1="271.80" x2="509.60" y2="271.80" stroke="#333333" stroke-width="1.5"/>
<line x1="388.30" y1="271.80" x2="391.30" y2="271.80" stroke="#333333" stroke-width="1"/>
<text x="385.40" y="274.80" font-size="8.6" text-anchor="end" fill="#262626" color="#262626">0.000</text>
<line x1="388.30" y1="252.20" x2="391.30" y2="252.20" stroke="#333333" stroke-width="1"/>
<text x="385.40" y="255.20" font-size="8.6" text-anchor="end" fill="#262626" color="#262626">0.005</text>
<line x1="388.30" y1="232.60" x2="391.30" y2="232.60" stroke="#333333" stroke-width="1"/>
<text x="385.40" y="235.60" font-size="8.6" text-anchor="end" fill="#262626" color="#262626">0.010</text>
<line x1="388.30" y1="213.00" x2="391.30" y2="213.00" stroke="#333333" stroke-width="1"/>
<text x="385.40" y="216.00" font-size="8.6" text-anchor="end" fill="#262626" color="#262626">0.015</text>
<line x1="388.30" y1="193.40" x2="391.30" y2="193.40" stroke="#333333" stroke-width="1"/>
<text x="385.40" y="196.40" font-size="8.6" text-anchor="end" fill="#262626" color="#262626">0.020</text>
<line x1="409.50" y1="271.80" x2="409.50" y2="274.60" stroke="#333333" stroke-width="1"/>
<line x1="436.50" y1="271.80" x2="436.50" y2="274.60" stroke="#333333" stroke-width="1"/>
<line x1="463.80" y1="271.80" x2="463.80" y2="274.60" stroke="#333333" stroke-width="1"/>
<line x1="491.00" y1="271.80" x2="491.00" y2="274.60" stroke="#333333" stroke-width="1"/>
<text x="409.15" y="285.30" font-size="8.8" text-anchor="middle" fill="#262626" color="#262626" textLength="22.70" lengthAdjust="spacingAndGlyphs">IgG2A</text>
<text x="436.40" y="285.30" font-size="8.8" text-anchor="middle" fill="#262626" color="#262626" textLength="23.60" lengthAdjust="spacingAndGlyphs">IgG2A</text>
<text x="463.90" y="285.30" font-size="8.8" text-anchor="middle" fill="#262626" color="#262626" textLength="14.20" lengthAdjust="spacingAndGlyphs">15.1</text>
<text x="491.05" y="285.30" font-size="8.8" text-anchor="middle" fill="#262626" color="#262626" textLength="15.30" lengthAdjust="spacingAndGlyphs">20.1</text>
<line x1="425.80" y1="290.00" x2="502.00" y2="290.00" stroke="#333" stroke-width="1.2"/>
<text x="408.90" y="299.80" font-size="8.8" text-anchor="middle" fill="#262626" color="#262626" textLength="13.60" lengthAdjust="spacingAndGlyphs">WT</text>
<text x="464.60" y="299.80" font-size="8.8" text-anchor="middle" fill="#262626" color="#262626" textLength="42.00" lengthAdjust="spacingAndGlyphs">Hbb(th3/+)</text>
<text transform="translate(359.60,231.05) rotate(-90)" x="0" y="0" font-size="7.9" text-anchor="middle" fill="#333" color="#333" textLength="54.50" lengthAdjust="spacingAndGlyphs">Spleen/body weight</text>
<line x1="409.50" y1="260.50" x2="409.50" y2="260.80" stroke="#3a3a3a" stroke-width="1"/>
<line x1="409.50" y1="262.20" x2="409.50" y2="263.50" stroke="#3a3a3a" stroke-width="1"/>
<line x1="405.00" y1="260.50" x2="414.00" y2="260.50" stroke="#3a3a3a" stroke-width="1"/>
<line x1="405.00" y1="263.50" x2="414.00" y2="263.50" stroke="#3a3a3a" stroke-width="1"/>
<rect x="400.60" y="260.80" width="18.30" height="1.40" fill="#213d72"/>
<line x1="400.60" y1="261.50" x2="418.90" y2="261.50" stroke="#141414" stroke-width="1.5"/>
<line x1="436.50" y1="198.50" x2="436.50" y2="204.80" stroke="#3a3a3a" stroke-width="1"/>
<line x1="436.50" y1="212.10" x2="436.50" y2="214.50" stroke="#3a3a3a" stroke-width="1"/>
<line x1="432.00" y1="198.50" x2="441.00" y2="198.50" stroke="#3a3a3a" stroke-width="1"/>
<line x1="432.00" y1="214.50" x2="441.00" y2="214.50" stroke="#3a3a3a" stroke-width="1"/>
<rect x="427.30" y="204.80" width="18.30" height="7.30" fill="#8c93c2"/>
<rect x="428.10" y="205.60" width="16.70" height="5.70" fill="#a8aed4"/>
<line x1="427.30" y1="208.30" x2="445.60" y2="208.30" stroke="#141414" stroke-width="1.5"/>
<path d="M429.82,222.30L430.82,218.10M431.02,222.30L432.02,218.10M429.78,219.30L432.38,219.30M429.36,221.10L431.96,221.10M433.54,222.30L434.54,218.10M434.74,222.30L435.74,218.10M433.50,219.30L436.10,219.30M433.08,221.10L435.68,221.10M437.26,222.30L438.26,218.10M438.46,222.30L439.46,218.10M437.22,219.30L439.82,219.30M436.80,221.10L439.40,221.10M440.98,222.30L441.98,218.10M442.18,222.30L443.18,218.10M440.94,219.30L443.54,219.30M440.52,221.10L443.12,221.10" fill="none" stroke="#4a4a4a" stroke-width="0.8"/>
<line x1="463.50" y1="206.50" x2="463.50" y2="215.40" stroke="#3a3a3a" stroke-width="1"/>
<line x1="463.50" y1="227.10" x2="463.50" y2="234.50" stroke="#3a3a3a" stroke-width="1"/>
<line x1="459.00" y1="206.50" x2="468.00" y2="206.50" stroke="#3a3a3a" stroke-width="1"/>
<line x1="459.00" y1="234.50" x2="468.00" y2="234.50" stroke="#3a3a3a" stroke-width="1"/>
<rect x="454.60" y="215.40" width="18.50" height="11.70" fill="#e0a298"/>
<rect x="455.40" y="216.20" width="16.90" height="10.10" fill="#d38a7f"/>
<line x1="454.60" y1="225.00" x2="473.10" y2="225.00" stroke="#141414" stroke-width="1.5"/>
<path d="M457.22,240.80L458.22,236.60M458.42,240.80L459.42,236.60M457.18,237.80L459.78,237.80M456.76,239.60L459.36,239.60M460.94,240.80L461.94,236.60M462.14,240.80L463.14,236.60M460.90,237.80L463.50,237.80M460.48,239.60L463.08,239.60M464.66,240.80L465.66,236.60M465.86,240.80L466.86,236.60M464.62,237.80L467.22,237.80M464.20,239.60L466.80,239.60M468.38,240.80L469.38,236.60M469.58,240.80L470.58,236.60M468.34,237.80L470.94,237.80M467.92,239.60L470.52,239.60" fill="none" stroke="#4a4a4a" stroke-width="0.8"/>
<line x1="491.50" y1="221.50" x2="491.50" y2="222.70" stroke="#3a3a3a" stroke-width="1"/>
<line x1="491.50" y1="229.80" x2="491.50" y2="231.50" stroke="#3a3a3a" stroke-width="1"/>
<line x1="487.00" y1="221.50" x2="496.00" y2="221.50" stroke="#3a3a3a" stroke-width="1"/>
<line x1="487.00" y1="231.50" x2="496.00" y2="231.50" stroke="#3a3a3a" stroke-width="1"/>
<rect x="482.10" y="222.70" width="17.90" height="7.10" fill="#b8183c"/>
<rect x="482.90" y="223.50" width="16.30" height="5.50" fill="#a8002a"/>
<line x1="482.10" y1="224.20" x2="500.00" y2="224.20" stroke="#141414" stroke-width="1.5"/>
<path d="M484.42,238.30L485.42,234.10M485.62,238.30L486.62,234.10M484.38,235.30L486.98,235.30M483.96,237.10L486.56,237.10M488.14,238.30L489.14,234.10M489.34,238.30L490.34,234.10M488.10,235.30L490.70,235.30M487.68,237.10L490.28,237.10M491.86,238.30L492.86,234.10M493.06,238.30L494.06,234.10M491.82,235.30L494.42,235.30M491.40,237.10L494.00,237.10M495.58,238.30L496.58,234.10M496.78,238.30L497.78,234.10M495.54,235.30L498.14,235.30M495.12,237.10L497.72,237.10" fill="none" stroke="#4a4a4a" stroke-width="0.8"/>
<line x1="436.00" y1="189.90" x2="490.80" y2="189.90" stroke="#555555" stroke-width="1.2"/>
<circle cx="459.15" cy="186.90" r="1.0" fill="#333"/>
<circle cx="462.05" cy="186.90" r="1.0" fill="#333"/>
<circle cx="464.95" cy="186.90" r="1.0" fill="#333"/>
<circle cx="467.85" cy="186.90" r="1.0" fill="#333"/>
<line x1="436.50" y1="195.80" x2="465.80" y2="195.80" stroke="#555555" stroke-width="1.2"/>
<circle cx="449.65" cy="192.40" r="1.0" fill="#333"/>
<circle cx="452.55" cy="192.40" r="1.0" fill="#333"/>
<text x="95.60" y="338.10" font-size="8.6" text-anchor="start" fill="#262626" color="#262626" textLength="15.80" lengthAdjust="spacingAndGlyphs">RBC</text>
<line x1="42.80" y1="343.50" x2="42.80" y2="424.15" stroke="#333333" stroke-width="1.5"/>
<line x1="42.05" y1="423.40" x2="163.40" y2="423.40" stroke="#333333" stroke-width="1.5"/>
<line x1="39.80" y1="423.40" x2="42.80" y2="423.40" stroke="#333333" stroke-width="1"/>
<text x="37.20" y="426.40" font-size="8.6" text-anchor="end" fill="#262626" color="#262626">6</text>
<line x1="39.80" y1="404.00" x2="42.80" y2="404.00" stroke="#333333" stroke-width="1"/>
<text x="37.20" y="407.00" font-size="8.6" text-anchor="end" fill="#262626" color="#262626">8</text>
<line x1="39.80" y1="384.60" x2="42.80" y2="384.60" stroke="#333333" stroke-width="1"/>
<text x="37.20" y="387.60" font-size="8.6" text-anchor="end" fill="#262626" color="#262626">10</text>
<line x1="39.80" y1="365.20" x2="42.80" y2="365.20" stroke="#333333" stroke-width="1"/>
<text x="37.20" y="368.20" font-size="8.6" text-anchor="end" fill="#262626" color="#262626">12</text>
<line x1="39.80" y1="345.80" x2="42.80" y2="345.80" stroke="#333333" stroke-width="1"/>
<text x="37.20" y="348.80" font-size="8.6" text-anchor="end" fill="#262626" color="#262626">14</text>
<line x1="61.30" y1="423.40" x2="61.30" y2="426.20" stroke="#333333" stroke-width="1"/>
<line x1="89.00" y1="423.40" x2="89.00" y2="426.20" stroke="#333333" stroke-width="1"/>
<line x1="117.00" y1="423.40" x2="117.00" y2="426.20" stroke="#333333" stroke-width="1"/>
<line x1="145.40" y1="423.40" x2="145.40" y2="426.20" stroke="#333333" stroke-width="1"/>
<text x="61.10" y="436.90" font-size="8.8" text-anchor="middle" fill="#262626" color="#262626" textLength="23.60" lengthAdjust="spacingAndGlyphs">IgG2A</text>
<text x="89.45" y="436.90" font-size="8.8" text-anchor="middle" fill="#262626" color="#262626" textLength="23.50" lengthAdjust="spacingAndGlyphs">IgG2A</text>
<text x="117.30" y="436.90" font-size="8.8" text-anchor="middle" fill="#262626" color="#262626" textLength="15.00" lengthAdjust="spacingAndGlyphs">15.1</text>
<text x="145.05" y="436.90" font-size="8.8" text-anchor="middle" fill="#262626" color="#262626" textLength="14.90" lengthAdjust="spacingAndGlyphs">20.1</text>
<line x1="79.00" y1="441.60" x2="155.80" y2="441.60" stroke="#333" stroke-width="1.2"/>
<text x="61.45" y="451.40" font-size="8.8" text-anchor="middle" fill="#262626" color="#262626" textLength="12.50" lengthAdjust="spacingAndGlyphs">WT</text>
<text x="117.35" y="451.40" font-size="8.8" text-anchor="middle" fill="#262626" color="#262626" textLength="42.70" lengthAdjust="spacingAndGlyphs">Hbb(th3/+)</text>
<text transform="translate(22.80,383.20) rotate(-90)" x="0" y="0" font-size="7.9" text-anchor="middle" fill="#333" color="#333" textLength="44.40" lengthAdjust="spacingAndGlyphs">RBC (x10^12/L)</text>
<line x1="61.50" y1="366.50" x2="61.50" y2="380.40" stroke="#3a3a3a" stroke-width="1"/>
<line x1="61.50" y1="388.70" x2="61.50" y2="391.50" stroke="#3a3a3a" stroke-width="1"/>
<line x1="57.00" y1="366.50" x2="66.00" y2="366.50" stroke="#3a3a3a" stroke-width="1"/>
<line x1="57.00" y1="391.50" x2="66.00" y2="391.50" stroke="#3a3a3a" stroke-width="1"/>
<rect x="52.30" y="380.40" width="18.50" height="8.30" fill="#213d72"/>
<rect x="53.10" y="381.20" width="16.90" height="6.70" fill="#2b4a85"/>
<line x1="52.30" y1="385.20" x2="70.80" y2="385.20" stroke="#141414" stroke-width="1.5"/>
<line x1="89.50" y1="405.50" x2="89.50" y2="405.80" stroke="#3a3a3a" stroke-width="1"/>
<line x1="89.50" y1="408.30" x2="89.50" y2="409.50" stroke="#3a3a3a" stroke-width="1"/>
<line x1="85.00" y1="405.50" x2="94.00" y2="405.50" stroke="#3a3a3a" stroke-width="1"/>
<line x1="85.00" y1="409.50" x2="94.00" y2="409.50" stroke="#3a3a3a" stroke-width="1"/>
<rect x="80.40" y="405.80" width="18.30" height="2.50" fill="#8c93c2"/>
<rect x="81.20" y="406.60" width="16.70" height="0.90" fill="#a8aed4"/>
<line x1="80.40" y1="406.70" x2="98.70" y2="406.70" stroke="#141414" stroke-width="1.5"/>
<path d="M82.92,403.40L83.92,399.20M84.12,403.40L85.12,399.20M82.88,400.40L85.48,400.40M82.46,402.20L85.06,402.20M86.64,403.40L87.64,399.20M87.84,403.40L88.84,399.20M86.60,400.40L89.20,400.40M86.18,402.20L88.78,402.20M90.36,403.40L91.36,399.20M91.56,403.40L92.56,399.20M90.32,400.40L92.92,400.40M89.90,402.20L92.50,402.20M94.08,403.40L95.08,399.20M95.28,403.40L96.28,399.20M94.04,400.40L96.64,400.40M93.62,402.20L96.22,402.20" fill="none" stroke="#4a4a4a" stroke-width="0.8"/>
<line x1="117.50" y1="387.50" x2="117.50" y2="388.00" stroke="#3a3a3a" stroke-width="1"/>
<line x1="117.50" y1="401.00" x2="117.50" y2="405.50" stroke="#3a3a3a" stroke-width="1"/>
<line x1="113.00" y1="387.50" x2="122.00" y2="387.50" stroke="#3a3a3a" stroke-width="1"/>
<line x1="113.00" y1="405.50" x2="122.00" y2="405.50" stroke="#3a3a3a" stroke-width="1"/>
<rect x="107.70" y="388.00" width="18.80" height="13.00" fill="#e0a298"/>
<rect x="108.50" y="388.80" width="17.20" height="11.40" fill="#d38a7f"/>
<line x1="107.70" y1="393.80" x2="126.50" y2="393.80" stroke="#141414" stroke-width="1.5"/>
<path d="M116.05,385.20L117.05,381.00M117.25,385.20L118.25,381.00M116.01,382.20L118.61,382.20M115.59,384.00L118.19,384.00" fill="none" stroke="#4a4a4a" stroke-width="0.8"/>
<line x1="145.50" y1="387.50" x2="145.50" y2="388.00" stroke="#3a3a3a" stroke-width="1"/>
<line x1="145.50" y1="395.20" x2="145.50" y2="396.50" stroke="#3a3a3a" stroke-width="1"/>
<line x1="141.00" y1="387.50" x2="150.00" y2="387.50" stroke="#3a3a3a" stroke-width="1"/>
<line x1="141.00" y1="396.50" x2="150.00" y2="396.50" stroke="#3a3a3a" stroke-width="1"/>
<rect x="135.80" y="388.00" width="18.60" height="7.20" fill="#b8183c"/>
<rect x="136.60" y="388.80" width="17.00" height="5.60" fill="#a8002a"/>
<line x1="135.80" y1="391.30" x2="154.40" y2="391.30" stroke="#141414" stroke-width="1.5"/>
<path d="M144.05,385.20L145.05,381.00M145.25,385.20L146.25,381.00M144.01,382.20L146.61,382.20M143.59,384.00L146.19,384.00" fill="none" stroke="#4a4a4a" stroke-width="0.8"/>
<line x1="91.30" y1="361.20" x2="144.80" y2="361.20" stroke="#555555" stroke-width="1.2"/>
<circle cx="113.85" cy="358.00" r="1.0" fill="#333"/>
<circle cx="116.75" cy="358.00" r="1.0" fill="#333"/>
<circle cx="119.65" cy="358.00" r="1.0" fill="#333"/>
<circle cx="122.55" cy="358.00" r="1.0" fill="#333"/>
<line x1="89.00" y1="371.30" x2="118.80" y2="371.30" stroke="#555555" stroke-width="1.2"/>
<circle cx="101.10" cy="368.00" r="1.0" fill="#333"/>
<circle cx="104.00" cy="368.00" r="1.0" fill="#333"/>
<circle cx="106.90" cy="368.00" r="1.0" fill="#333"/>
<text x="268.50" y="338.10" font-size="8.6" text-anchor="start" fill="#262626" color="#262626" textLength="16.70" lengthAdjust="spacingAndGlyphs">HGB</text>
<line x1="216.00" y1="343.30" x2="216.00" y2="424.05" stroke="#333333" stroke-width="1.5"/>
<line x1="215.25" y1="423.30" x2="337.00" y2="423.30" stroke="#333333" stroke-width="1.5"/>
<line x1="213.00" y1="423.30" x2="216.00" y2="423.30" stroke="#333333" stroke-width="1"/>
<text x="211.00" y="426.30" font-size="8.6" text-anchor="end" fill="#262626" color="#262626">0</text>
<line x1="213.00" y1="403.93" x2="216.00" y2="403.93" stroke="#333333" stroke-width="1"/>
<text x="211.00" y="406.93" font-size="8.6" text-anchor="end" fill="#262626" color="#262626">5</text>
<line x1="213.00" y1="384.55" x2="216.00" y2="384.55" stroke="#333333" stroke-width="1"/>
<text x="211.00" y="387.55" font-size="8.6" text-anchor="end" fill="#262626" color="#262626">10</text>
<line x1="213.00" y1="365.18" x2="216.00" y2="365.18" stroke="#333333" stroke-width="1"/>
<text x="211.00" y="368.18" font-size="8.6" text-anchor="end" fill="#262626" color="#262626">15</text>
<line x1="213.00" y1="345.80" x2="216.00" y2="345.80" stroke="#333333" stroke-width="1"/>
<text x="211.00" y="348.80" font-size="8.6" text-anchor="end" fill="#262626" color="#262626">20</text>
<line x1="234.50" y1="423.30" x2="234.50" y2="426.10" stroke="#333333" stroke-width="1"/>
<line x1="262.30" y1="423.30" x2="262.30" y2="426.10" stroke="#333333" stroke-width="1"/>
<line x1="290.60" y1="423.30" x2="290.60" y2="426.10" stroke="#333333" stroke-width="1"/>
<line x1="318.50" y1="423.30" x2="318.50" y2="426.10" stroke="#333333" stroke-width="1"/>
<text x="234.60" y="436.80" font-size="8.8" text-anchor="middle" fill="#262626" color="#262626" textLength="23.20" lengthAdjust="spacingAndGlyphs">IgG2A</text>
<text x="262.35" y="436.80" font-size="8.8" text-anchor="middle" fill="#262626" color="#262626" textLength="23.10" lengthAdjust="spacingAndGlyphs">IgG2A</text>
<text x="290.00" y="436.80" font-size="8.8" text-anchor="middle" fill="#262626" color="#262626" textLength="15.80" lengthAdjust="spacingAndGlyphs">15.1</text>
<text x="318.00" y="436.80" font-size="8.8" text-anchor="middle" fill="#262626" color="#262626" textLength="15.20" lengthAdjust="spacingAndGlyphs">20.1</text>
<line x1="251.50" y1="441.50" x2="330.00" y2="441.50" stroke="#333" stroke-width="1.2"/>
<text x="235.55" y="451.30" font-size="8.8" text-anchor="middle" fill="#262626" color="#262626" textLength="12.70" lengthAdjust="spacingAndGlyphs">WT</text>
<text x="291.05" y="451.30" font-size="8.8" text-anchor="middle" fill="#262626" color="#262626" textLength="41.30" lengthAdjust="spacingAndGlyphs">Hbb(th3/+)</text>
<text transform="translate(195.40,383.15) rotate(-90)" x="0" y="0" font-size="7.9" text-anchor="middle" fill="#333" color="#333" textLength="29.70" lengthAdjust="spacingAndGlyphs">HGB (g/dL)</text>
<line x1="234.50" y1="357.50" x2="234.50" y2="365.40" stroke="#3a3a3a" stroke-width="1"/>
<line x1="234.50" y1="367.70" x2="234.50" y2="371.50" stroke="#3a3a3a" stroke-width="1"/>
<line x1="230.00" y1="357.50" x2="239.00" y2="357.50" stroke="#3a3a3a" stroke-width="1"/>
<line x1="230.00" y1="371.50" x2="239.00" y2="371.50" stroke="#3a3a3a" stroke-width="1"/>
<rect x="225.60" y="365.40" width="17.90" height="2.30" fill="#213d72"/>
<rect x="226.40" y="366.20" width="16.30" height="0.70" fill="#2b4a85"/>
<line x1="225.60" y1="366.50" x2="243.50" y2="366.50" stroke="#141414" stroke-width="1.5"/>
<line x1="262.50" y1="392.50" x2="262.50" y2="392.40" stroke="#3a3a3a" stroke-width="1"/>
<line x1="262.50" y1="393.60" x2="262.50" y2="393.50" stroke="#3a3a3a" stroke-width="1"/>
<line x1="258.00" y1="392.50" x2="267.00" y2="392.50" stroke="#3a3a3a" stroke-width="1"/>
<line x1="258.00" y1="393.50" x2="267.00" y2="393.50" stroke="#3a3a3a" stroke-width="1"/>
<rect x="253.00" y="392.40" width="18.50" height="1.20" fill="#8c93c2"/>
<line x1="253.00" y1="392.90" x2="271.50" y2="392.90" stroke="#141414" stroke-width="1.5"/>
<path d="M255.62,390.60L256.62,386.40M256.82,390.60L257.82,386.40M255.58,387.60L258.18,387.60M255.16,389.40L257.76,389.40M259.34,390.60L260.34,386.40M260.54,390.60L261.54,386.40M259.30,387.60L261.90,387.60M258.88,389.40L261.48,389.40M263.06,390.60L264.06,386.40M264.26,390.60L265.26,386.40M263.02,387.60L265.62,387.60M262.60,389.40L265.20,389.40M266.78,390.60L267.78,386.40M267.98,390.60L268.98,386.40M266.74,387.60L269.34,387.60M266.32,389.40L268.92,389.40" fill="none" stroke="#4a4a4a" stroke-width="0.8"/>
<line x1="290.50" y1="386.50" x2="290.50" y2="387.10" stroke="#3a3a3a" stroke-width="1"/>
<line x1="290.50" y1="390.40" x2="290.50" y2="391.50" stroke="#3a3a3a" stroke-width="1"/>
<line x1="286.00" y1="386.50" x2="295.00" y2="386.50" stroke="#3a3a3a" stroke-width="1"/>
<line x1="286.00" y1="391.50" x2="295.00" y2="391.50" stroke="#3a3a3a" stroke-width="1"/>
<rect x="281.20" y="387.10" width="18.60" height="3.30" fill="#e0a298"/>
<rect x="282.00" y="387.90" width="17.00" height="1.70" fill="#d38a7f"/>
<line x1="281.20" y1="388.50" x2="299.80" y2="388.50" stroke="#141414" stroke-width="1.5"/>
<path d="M283.87,384.40L284.87,380.20M285.07,384.40L286.07,380.20M283.83,381.40L286.43,381.40M283.41,383.20L286.01,383.20M287.59,384.40L288.59,380.20M288.79,384.40L289.79,380.20M287.55,381.40L290.15,381.40M287.13,383.20L289.73,383.20M291.31,384.40L292.31,380.20M292.51,384.40L293.51,380.20M291.27,381.40L293.87,381.40M290.85,383.20L293.45,383.20M295.03,384.40L296.03,380.20M296.23,384.40L297.23,380.20M294.99,381.40L297.59,381.40M294.57,383.20L297.17,383.20" fill="none" stroke="#4a4a4a" stroke-width="0.8"/>
<line x1="318.50" y1="386.50" x2="318.50" y2="388.40" stroke="#3a3a3a" stroke-width="1"/>
<line x1="318.50" y1="390.00" x2="318.50" y2="390.50" stroke="#3a3a3a" stroke-width="1"/>
<line x1="314.00" y1="386.50" x2="323.00" y2="386.50" stroke="#3a3a3a" stroke-width="1"/>
<line x1="314.00" y1="390.50" x2="323.00" y2="390.50" stroke="#3a3a3a" stroke-width="1"/>
<rect x="309.00" y="388.40" width="18.70" height="1.60" fill="#b8183c"/>
<line x1="309.00" y1="388.60" x2="327.70" y2="388.60" stroke="#141414" stroke-width="1.5"/>
<path d="M311.72,384.80L312.72,380.60M312.92,384.80L313.92,380.60M311.68,381.80L314.28,381.80M311.26,383.60L313.86,383.60M315.44,384.80L316.44,380.60M316.64,384.80L317.64,380.60M315.40,381.80L318.00,381.80M314.98,383.60L317.58,383.60M319.16,384.80L320.16,380.60M320.36,384.80L321.36,380.60M319.12,381.80L321.72,381.80M318.70,383.60L321.30,383.60M322.88,384.80L323.88,380.60M324.08,384.80L325.08,380.60M322.84,381.80L325.44,381.80M322.42,383.60L325.02,383.60" fill="none" stroke="#4a4a4a" stroke-width="0.8"/>
<line x1="264.60" y1="361.20" x2="318.00" y2="361.20" stroke="#555555" stroke-width="1.2"/>
<circle cx="287.05" cy="358.00" r="1.0" fill="#333"/>
<circle cx="289.95" cy="358.00" r="1.0" fill="#333"/>
<circle cx="292.85" cy="358.00" r="1.0" fill="#333"/>
<circle cx="295.75" cy="358.00" r="1.0" fill="#333"/>
<line x1="262.30" y1="371.20" x2="292.10" y2="371.20" stroke="#555555" stroke-width="1.2"/>
<circle cx="272.85" cy="367.70" r="1.0" fill="#333"/>
<circle cx="275.75" cy="367.70" r="1.0" fill="#333"/>
<circle cx="278.65" cy="367.70" r="1.0" fill="#333"/>
<circle cx="281.55" cy="367.70" r="1.0" fill="#333"/>
<text x="443.30" y="338.10" font-size="8.6" text-anchor="start" fill="#262626" color="#262626" textLength="15.70" lengthAdjust="spacingAndGlyphs">HCT</text>
<line x1="391.20" y1="343.50" x2="391.20" y2="424.25" stroke="#333333" stroke-width="1.5"/>
<line x1="390.45" y1="423.50" x2="511.30" y2="423.50" stroke="#333333" stroke-width="1.5"/>
<line x1="388.20" y1="423.50" x2="391.20" y2="423.50" stroke="#333333" stroke-width="1"/>
<text x="385.70" y="426.50" font-size="8.6" text-anchor="end" fill="#262626" color="#262626">0.2</text>
<line x1="388.20" y1="408.06" x2="391.20" y2="408.06" stroke="#333333" stroke-width="1"/>
<text x="385.70" y="411.06" font-size="8.6" text-anchor="end" fill="#262626" color="#262626">0.3</text>
<line x1="388.20" y1="392.62" x2="391.20" y2="392.62" stroke="#333333" stroke-width="1"/>
<text x="385.70" y="395.62" font-size="8.6" text-anchor="end" fill="#262626" color="#262626">0.4</text>
<line x1="388.20" y1="377.18" x2="391.20" y2="377.18" stroke="#333333" stroke-width="1"/>
<text x="385.70" y="380.18" font-size="8.6" text-anchor="end" fill="#262626" color="#262626">0.5</text>
<line x1="388.20" y1="361.74" x2="391.20" y2="361.74" stroke="#333333" stroke-width="1"/>
<text x="385.70" y="364.74" font-size="8.6" text-anchor="end" fill="#262626" color="#262626">0.6</text>
<line x1="388.20" y1="346.30" x2="391.20" y2="346.30" stroke="#333333" stroke-width="1"/>
<text x="385.70" y="349.30" font-size="8.6" text-anchor="end" fill="#262626" color="#262626">0.7</text>
<line x1="409.40" y1="423.50" x2="409.40" y2="426.30" stroke="#333333" stroke-width="1"/>
<line x1="437.10" y1="423.50" x2="437.10" y2="426.30" stroke="#333333" stroke-width="1"/>
<line x1="464.60" y1="423.50" x2="464.60" y2="426.30" stroke="#333333" stroke-width="1"/>
<line x1="492.50" y1="423.50" x2="492.50" y2="426.30" stroke="#333333" stroke-width="1"/>
<text x="409.50" y="437.00" font-size="8.8" text-anchor="middle" fill="#262626" color="#262626" textLength="23.40" lengthAdjust="spacingAndGlyphs">IgG2A</text>
<text x="436.35" y="437.00" font-size="8.8" text-anchor="middle" fill="#262626" color="#262626" textLength="23.50" lengthAdjust="spacingAndGlyphs">IgG2A</text>
<text x="464.30" y="437.00" font-size="8.8" text-anchor="middle" fill="#262626" color="#262626" textLength="14.80" lengthAdjust="spacingAndGlyphs">15.1</text>
<text x="492.00" y="437.00" font-size="8.8" text-anchor="middle" fill="#262626" color="#262626" textLength="14.80" lengthAdjust="spacingAndGlyphs">20.1</text>
<line x1="426.20" y1="441.70" x2="503.30" y2="441.70" stroke="#333" stroke-width="1.2"/>
<text x="409.40" y="451.50" font-size="8.8" text-anchor="middle" fill="#262626" color="#262626" textLength="12.80" lengthAdjust="spacingAndGlyphs">WT</text>
<text x="465.60" y="451.50" font-size="8.8" text-anchor="middle" fill="#262626" color="#262626" textLength="42.80" lengthAdjust="spacingAndGlyphs">Hbb(th3/+)</text>
<text transform="translate(368.10,383.35) rotate(-90)" x="0" y="0" font-size="7.9" text-anchor="middle" fill="#333" color="#333" textLength="10.70" lengthAdjust="spacingAndGlyphs">HCT</text>
<line x1="409.50" y1="357.50" x2="409.50" y2="367.90" stroke="#3a3a3a" stroke-width="1"/>
<line x1="409.50" y1="372.70" x2="409.50" y2="376.50" stroke="#3a3a3a" stroke-width="1"/>
<line x1="405.00" y1="357.50" x2="414.00" y2="357.50" stroke="#3a3a3a" stroke-width="1"/>
<line x1="405.00" y1="376.50" x2="414.00" y2="376.50" stroke="#3a3a3a" stroke-width="1"/>
<rect x="400.40" y="367.90" width="18.30" height="4.80" fill="#213d72"/>
<rect x="401.20" y="368.70" width="16.70" height="3.20" fill="#2b4a85"/>
<line x1="400.40" y1="370.40" x2="418.70" y2="370.40" stroke="#141414" stroke-width="1.5"/>
<line x1="437.50" y1="399.50" x2="437.50" y2="400.00" stroke="#3a3a3a" stroke-width="1"/>
<line x1="437.50" y1="401.30" x2="437.50" y2="401.50" stroke="#3a3a3a" stroke-width="1"/>
<line x1="433.00" y1="399.50" x2="442.00" y2="399.50" stroke="#3a3a3a" stroke-width="1"/>
<line x1="433.00" y1="401.50" x2="442.00" y2="401.50" stroke="#3a3a3a" stroke-width="1"/>
<rect x="428.00" y="400.00" width="18.20" height="1.30" fill="#8c93c2"/>
<line x1="428.00" y1="400.60" x2="446.20" y2="400.60" stroke="#141414" stroke-width="1.5"/>
<path d="M430.47,397.30L431.47,393.10M431.67,397.30L432.67,393.10M430.43,394.30L433.03,394.30M430.01,396.10L432.61,396.10M434.19,397.30L435.19,393.10M435.39,397.30L436.39,393.10M434.15,394.30L436.75,394.30M433.73,396.10L436.33,396.10M437.91,397.30L438.91,393.10M439.11,397.30L440.11,393.10M437.87,394.30L440.47,394.30M437.45,396.10L440.05,396.10M441.63,397.30L442.63,393.10M442.83,397.30L443.83,393.10M441.59,394.30L444.19,394.30M441.17,396.10L443.77,396.10" fill="none" stroke="#4a4a4a" stroke-width="0.8"/>
<line x1="464.50" y1="384.50" x2="464.50" y2="389.40" stroke="#3a3a3a" stroke-width="1"/>
<line x1="464.50" y1="395.20" x2="464.50" y2="397.50" stroke="#3a3a3a" stroke-width="1"/>
<line x1="460.00" y1="384.50" x2="469.00" y2="384.50" stroke="#3a3a3a" stroke-width="1"/>
<line x1="460.00" y1="397.50" x2="469.00" y2="397.50" stroke="#3a3a3a" stroke-width="1"/>
<rect x="455.80" y="389.40" width="17.90" height="5.80" fill="#e0a298"/>
<rect x="456.60" y="390.20" width="16.30" height="4.20" fill="#d38a7f"/>
<line x1="455.80" y1="395.20" x2="473.70" y2="395.20" stroke="#141414" stroke-width="1.5"/>
<path d="M458.12,382.50L459.12,378.30M459.32,382.50L460.32,378.30M458.08,379.50L460.68,379.50M457.66,381.30L460.26,381.30M461.84,382.50L462.84,378.30M463.04,382.50L464.04,378.30M461.80,379.50L464.40,379.50M461.38,381.30L463.98,381.30M465.56,382.50L466.56,378.30M466.76,382.50L467.76,378.30M465.52,379.50L468.12,379.50M465.10,381.30L467.70,381.30M469.28,382.50L470.28,378.30M470.48,382.50L471.48,378.30M469.24,379.50L471.84,379.50M468.82,381.30L471.42,381.30" fill="none" stroke="#4a4a4a" stroke-width="0.8"/>
<line x1="492.50" y1="390.50" x2="492.50" y2="392.20" stroke="#3a3a3a" stroke-width="1"/>
<line x1="492.50" y1="393.40" x2="492.50" y2="394.50" stroke="#3a3a3a" stroke-width="1"/>
<line x1="488.00" y1="390.50" x2="497.00" y2="390.50" stroke="#3a3a3a" stroke-width="1"/>
<line x1="488.00" y1="394.50" x2="497.00" y2="394.50" stroke="#3a3a3a" stroke-width="1"/>
<rect x="483.30" y="392.20" width="18.20" height="1.20" fill="#b8183c"/>
<line x1="483.30" y1="392.70" x2="501.50" y2="392.70" stroke="#141414" stroke-width="1.5"/>
<path d="M485.77,388.60L486.77,384.40M486.97,388.60L487.97,384.40M485.73,385.60L488.33,385.60M485.31,387.40L487.91,387.40M489.49,388.60L490.49,384.40M490.69,388.60L491.69,384.40M489.45,385.60L492.05,385.60M489.03,387.40L491.63,387.40M493.21,388.60L494.21,384.40M494.41,388.60L495.41,384.40M493.17,385.60L495.77,385.60M492.75,387.40L495.35,387.40M496.93,388.60L497.93,384.40M498.13,388.60L499.13,384.40M496.89,385.60L499.49,385.60M496.47,387.40L499.07,387.40" fill="none" stroke="#4a4a4a" stroke-width="0.8"/>
<line x1="439.00" y1="364.40" x2="491.90" y2="364.40" stroke="#555555" stroke-width="1.2"/>
<circle cx="461.35" cy="361.00" r="1.0" fill="#333"/>
<circle cx="464.25" cy="361.00" r="1.0" fill="#333"/>
<circle cx="467.15" cy="361.00" r="1.0" fill="#333"/>
<circle cx="470.05" cy="361.00" r="1.0" fill="#333"/>
<line x1="436.70" y1="371.90" x2="466.50" y2="371.90" stroke="#555555" stroke-width="1.2"/>
<circle cx="448.80" cy="368.80" r="1.0" fill="#333"/>
<circle cx="451.70" cy="368.80" r="1.0" fill="#333"/>
<circle cx="454.60" cy="368.80" r="1.0" fill="#333"/>
<text x="80.40" y="476.30" font-size="8.6" text-anchor="start" fill="#262626" color="#262626" textLength="46.90" lengthAdjust="spacingAndGlyphs">Reticulocytes</text>
<line x1="42.80" y1="481.30" x2="42.80" y2="561.85" stroke="#333333" stroke-width="1.5"/>
<line x1="42.05" y1="561.10" x2="163.40" y2="561.10" stroke="#333333" stroke-width="1.5"/>
<line x1="39.80" y1="561.10" x2="42.80" y2="561.10" stroke="#333333" stroke-width="1"/>
<text x="37.20" y="564.10" font-size="8.6" text-anchor="end" fill="#262626" color="#262626">0</text>
<line x1="39.80" y1="541.88" x2="42.80" y2="541.88" stroke="#333333" stroke-width="1"/>
<text x="37.20" y="544.88" font-size="8.6" text-anchor="end" fill="#262626" color="#262626">10</text>
<line x1="39.80" y1="522.66" x2="42.80" y2="522.66" stroke="#333333" stroke-width="1"/>
<text x="37.20" y="525.66" font-size="8.6" text-anchor="end" fill="#262626" color="#262626">20</text>
<line x1="39.80" y1="503.44" x2="42.80" y2="503.44" stroke="#333333" stroke-width="1"/>
<text x="37.20" y="506.44" font-size="8.6" text-anchor="end" fill="#262626" color="#262626">30</text>
<line x1="39.80" y1="484.22" x2="42.80" y2="484.22" stroke="#333333" stroke-width="1"/>
<text x="37.20" y="487.22" font-size="8.6" text-anchor="end" fill="#262626" color="#262626">40</text>
<line x1="61.40" y1="561.10" x2="61.40" y2="563.90" stroke="#333333" stroke-width="1"/>
<line x1="89.40" y1="561.10" x2="89.40" y2="563.90" stroke="#333333" stroke-width="1"/>
<line x1="117.30" y1="561.10" x2="117.30" y2="563.90" stroke="#333333" stroke-width="1"/>
<line x1="145.30" y1="561.10" x2="145.30" y2="563.90" stroke="#333333" stroke-width="1"/>
<text x="61.10" y="574.60" font-size="8.8" text-anchor="middle" fill="#262626" color="#262626" textLength="23.60" lengthAdjust="spacingAndGlyphs">IgG2A</text>
<text x="89.50" y="574.60" font-size="8.8" text-anchor="middle" fill="#262626" color="#262626" textLength="23.40" lengthAdjust="spacingAndGlyphs">IgG2A</text>
<text x="117.65" y="574.60" font-size="8.8" text-anchor="middle" fill="#262626" color="#262626" textLength="15.70" lengthAdjust="spacingAndGlyphs">15.1</text>
<text x="144.85" y="574.60" font-size="8.8" text-anchor="middle" fill="#262626" color="#262626" textLength="15.30" lengthAdjust="spacingAndGlyphs">20.1</text>
<line x1="79.00" y1="579.30" x2="156.50" y2="579.30" stroke="#333" stroke-width="1.2"/>
<text x="61.45" y="589.10" font-size="8.8" text-anchor="middle" fill="#262626" color="#262626" textLength="12.50" lengthAdjust="spacingAndGlyphs">WT</text>
<text x="117.35" y="589.10" font-size="8.8" text-anchor="middle" fill="#262626" color="#262626" textLength="42.70" lengthAdjust="spacingAndGlyphs">Hbb(th3/+)</text>
<text transform="translate(21.80,520.80) rotate(-90)" x="0" y="0" font-size="7.9" text-anchor="middle" fill="#333" color="#333" textLength="40.40" lengthAdjust="spacingAndGlyphs">Reticulocyte %</text>
<line x1="61.50" y1="551.50" x2="61.50" y2="554.50" stroke="#3a3a3a" stroke-width="1"/>
<line x1="61.50" y1="555.50" x2="61.50" y2="555.50" stroke="#3a3a3a" stroke-width="1"/>
<line x1="57.00" y1="551.50" x2="66.00" y2="551.50" stroke="#3a3a3a" stroke-width="1"/>
<line x1="57.00" y1="555.50" x2="66.00" y2="555.50" stroke="#3a3a3a" stroke-width="1"/>
<rect x="52.30" y="554.50" width="18.50" height="1.00" fill="#213d72"/>
<line x1="52.30" y1="555.00" x2="70.80" y2="555.00" stroke="#141414" stroke-width="1.5"/>
<line x1="89.50" y1="508.50" x2="89.50" y2="509.00" stroke="#3a3a3a" stroke-width="1"/>
<line x1="89.50" y1="515.40" x2="89.50" y2="517.50" stroke="#3a3a3a" stroke-width="1"/>
<line x1="85.00" y1="508.50" x2="94.00" y2="508.50" stroke="#3a3a3a" stroke-width="1"/>
<line x1="85.00" y1="517.50" x2="94.00" y2="517.50" stroke="#3a3a3a" stroke-width="1"/>
<rect x="80.00" y="509.00" width="18.80" height="6.40" fill="#8c93c2"/>
<rect x="80.80" y="509.80" width="17.20" height="4.80" fill="#a8aed4"/>
<line x1="80.00" y1="513.80" x2="98.80" y2="513.80" stroke="#141414" stroke-width="1.5"/>
<path d="M82.77,506.40L83.77,502.20M83.97,506.40L84.97,502.20M82.73,503.40L85.33,503.40M82.31,505.20L84.91,505.20M86.49,506.40L87.49,502.20M87.69,506.40L88.69,502.20M86.45,503.40L89.05,503.40M86.03,505.20L88.63,505.20M90.21,506.40L91.21,502.20M91.41,506.40L92.41,502.20M90.17,503.40L92.77,503.40M89.75,505.20L92.35,505.20M93.93,506.40L94.93,502.20M95.13,506.40L96.13,502.20M93.89,503.40L96.49,503.40M93.47,505.20L96.07,505.20" fill="none" stroke="#4a4a4a" stroke-width="0.8"/>
<line x1="117.50" y1="513.50" x2="117.50" y2="515.20" stroke="#3a3a3a" stroke-width="1"/>
<line x1="117.50" y1="528.30" x2="117.50" y2="529.50" stroke="#3a3a3a" stroke-width="1"/>
<line x1="113.00" y1="513.50" x2="122.00" y2="513.50" stroke="#3a3a3a" stroke-width="1"/>
<line x1="113.00" y1="529.50" x2="122.00" y2="529.50" stroke="#3a3a3a" stroke-width="1"/>
<rect x="108.00" y="515.20" width="18.70" height="13.10" fill="#e0a298"/>
<rect x="108.80" y="516.00" width="17.10" height="11.50" fill="#d38a7f"/>
<line x1="108.00" y1="524.80" x2="126.70" y2="524.80" stroke="#141414" stroke-width="1.5"/>
<path d="M114.44,511.70L115.44,507.50M115.64,511.70L116.64,507.50M114.40,508.70L117.00,508.70M113.98,510.50L116.58,510.50M118.16,511.70L119.16,507.50M119.36,511.70L120.36,507.50M118.12,508.70L120.72,508.70M117.70,510.50L120.30,510.50" fill="none" stroke="#4a4a4a" stroke-width="0.8"/>
<line x1="145.50" y1="517.50" x2="145.50" y2="521.50" stroke="#3a3a3a" stroke-width="1"/>
<line x1="145.50" y1="528.30" x2="145.50" y2="530.50" stroke="#3a3a3a" stroke-width="1"/>
<line x1="141.00" y1="517.50" x2="150.00" y2="517.50" stroke="#3a3a3a" stroke-width="1"/>
<line x1="141.00" y1="530.50" x2="150.00" y2="530.50" stroke="#3a3a3a" stroke-width="1"/>
<rect x="136.00" y="521.50" width="18.60" height="6.80" fill="#b8183c"/>
<rect x="136.80" y="522.30" width="17.00" height="5.20" fill="#a8002a"/>
<line x1="136.00" y1="524.80" x2="154.60" y2="524.80" stroke="#141414" stroke-width="1.5"/>
<path d="M140.53,514.40L141.53,510.20M141.73,514.40L142.73,510.20M140.49,511.40L143.09,511.40M140.07,513.20L142.67,513.20M144.25,514.40L145.25,510.20M145.45,514.40L146.45,510.20M144.21,511.40L146.81,511.40M143.79,513.20L146.39,513.20M147.97,514.40L148.97,510.20M149.17,514.40L150.17,510.20M147.93,511.40L150.53,511.40M147.51,513.20L150.11,513.20" fill="none" stroke="#4a4a4a" stroke-width="0.8"/>
<line x1="89.80" y1="488.00" x2="145.00" y2="488.00" stroke="#555555" stroke-width="1.2"/>
<circle cx="113.15" cy="484.60" r="1.0" fill="#333"/>
<circle cx="116.05" cy="484.60" r="1.0" fill="#333"/>
<circle cx="118.95" cy="484.60" r="1.0" fill="#333"/>
<circle cx="121.85" cy="484.60" r="1.0" fill="#333"/>
<line x1="89.20" y1="495.80" x2="119.00" y2="495.80" stroke="#555555" stroke-width="1.2"/>
<circle cx="99.85" cy="492.70" r="1.0" fill="#333"/>
<circle cx="102.75" cy="492.70" r="1.0" fill="#333"/>
<circle cx="105.65" cy="492.70" r="1.0" fill="#333"/>
<circle cx="108.55" cy="492.70" r="1.0" fill="#333"/>
<text x="268.10" y="476.30" font-size="8.6" text-anchor="start" fill="#262626" color="#262626" textLength="17.70" lengthAdjust="spacingAndGlyphs">MCV</text>
<line x1="216.20" y1="481.30" x2="216.20" y2="561.85" stroke="#333333" stroke-width="1.5"/>
<line x1="215.45" y1="561.10" x2="337.00" y2="561.10" stroke="#333333" stroke-width="1.5"/>
<line x1="213.20" y1="561.10" x2="216.20" y2="561.10" stroke="#333333" stroke-width="1"/>
<text x="211.00" y="564.10" font-size="8.6" text-anchor="end" fill="#262626" color="#262626">35</text>
<line x1="213.20" y1="545.72" x2="216.20" y2="545.72" stroke="#333333" stroke-width="1"/>
<text x="211.00" y="548.72" font-size="8.6" text-anchor="end" fill="#262626" color="#262626">40</text>
<line x1="213.20" y1="530.34" x2="216.20" y2="530.34" stroke="#333333" stroke-width="1"/>
<text x="211.00" y="533.34" font-size="8.6" text-anchor="end" fill="#262626" color="#262626">45</text>
<line x1="213.20" y1="514.96" x2="216.20" y2="514.96" stroke="#333333" stroke-width="1"/>
<text x="211.00" y="517.96" font-size="8.6" text-anchor="end" fill="#262626" color="#262626">50</text>
<line x1="213.20" y1="499.58" x2="216.20" y2="499.58" stroke="#333333" stroke-width="1"/>
<text x="211.00" y="502.58" font-size="8.6" text-anchor="end" fill="#262626" color="#262626">55</text>
<line x1="213.20" y1="484.20" x2="216.20" y2="484.20" stroke="#333333" stroke-width="1"/>
<text x="211.00" y="487.20" font-size="8.6" text-anchor="end" fill="#262626" color="#262626">60</text>
<line x1="234.50" y1="561.10" x2="234.50" y2="563.90" stroke="#333333" stroke-width="1"/>
<line x1="262.30" y1="561.10" x2="262.30" y2="563.90" stroke="#333333" stroke-width="1"/>
<line x1="290.30" y1="561.10" x2="290.30" y2="563.90" stroke="#333333" stroke-width="1"/>
<line x1="318.50" y1="561.10" x2="318.50" y2="563.90" stroke="#333333" stroke-width="1"/>
<text x="234.75" y="574.60" font-size="8.8" text-anchor="middle" fill="#262626" color="#262626" textLength="23.50" lengthAdjust="spacingAndGlyphs">IgG2A</text>
<text x="262.35" y="574.60" font-size="8.8" text-anchor="middle" fill="#262626" color="#262626" textLength="23.10" lengthAdjust="spacingAndGlyphs">IgG2A</text>
<text x="290.00" y="574.60" font-size="8.8" text-anchor="middle" fill="#262626" color="#262626" textLength="15.80" lengthAdjust="spacingAndGlyphs">15.1</text>
<text x="318.00" y="574.60" font-size="8.8" text-anchor="middle" fill="#262626" color="#262626" textLength="15.20" lengthAdjust="spacingAndGlyphs">20.1</text>
<line x1="251.50" y1="579.30" x2="330.00" y2="579.30" stroke="#333" stroke-width="1.2"/>
<text x="235.10" y="589.10" font-size="8.8" text-anchor="middle" fill="#262626" color="#262626" textLength="13.60" lengthAdjust="spacingAndGlyphs">WT</text>
<text x="291.05" y="589.10" font-size="8.8" text-anchor="middle" fill="#262626" color="#262626" textLength="41.30" lengthAdjust="spacingAndGlyphs">Hbb(th3/+)</text>
<text transform="translate(195.10,521.15) rotate(-90)" x="0" y="0" font-size="7.9" text-anchor="middle" fill="#333" color="#333" textLength="23.10" lengthAdjust="spacingAndGlyphs">MCV (fL)</text>
<line x1="234.50" y1="498.50" x2="234.50" y2="499.60" stroke="#3a3a3a" stroke-width="1"/>
<line x1="234.50" y1="503.80" x2="234.50" y2="506.50" stroke="#3a3a3a" stroke-width="1"/>
<line x1="230.00" y1="498.50" x2="239.00" y2="498.50" stroke="#3a3a3a" stroke-width="1"/>
<line x1="230.00" y1="506.50" x2="239.00" y2="506.50" stroke="#3a3a3a" stroke-width="1"/>
<rect x="225.40" y="499.60" width="18.30" height="4.20" fill="#213d72"/>
<rect x="226.20" y="500.40" width="16.70" height="2.60" fill="#2b4a85"/>
<line x1="225.40" y1="501.50" x2="243.70" y2="501.50" stroke="#141414" stroke-width="1.5"/>
<line x1="262.50" y1="529.50" x2="262.50" y2="529.30" stroke="#3a3a3a" stroke-width="1"/>
<line x1="262.50" y1="530.30" x2="262.50" y2="534.50" stroke="#3a3a3a" stroke-width="1"/>
<line x1="258.00" y1="529.50" x2="267.00" y2="529.50" stroke="#3a3a3a" stroke-width="1"/>
<line x1="258.00" y1="534.50" x2="267.00" y2="534.50" stroke="#3a3a3a" stroke-width="1"/>
<rect x="253.00" y="529.30" width="18.70" height="1.00" fill="#8c93c2"/>
<line x1="253.00" y1="529.60" x2="271.70" y2="529.60" stroke="#141414" stroke-width="1.5"/>
<path d="M255.72,525.50L256.72,521.30M256.92,525.50L257.92,521.30M255.68,522.50L258.28,522.50M255.26,524.30L257.86,524.30M259.44,525.50L260.44,521.30M260.64,525.50L261.64,521.30M259.40,522.50L262.00,522.50M258.98,524.30L261.58,524.30M263.16,525.50L264.16,521.30M264.36,525.50L265.36,521.30M263.12,522.50L265.72,522.50M262.70,524.30L265.30,524.30M266.88,525.50L267.88,521.30M268.08,525.50L269.08,521.30M266.84,522.50L269.44,522.50M266.42,524.30L269.02,524.30" fill="none" stroke="#4a4a4a" stroke-width="0.8"/>
<line x1="290.50" y1="524.50" x2="290.50" y2="526.00" stroke="#3a3a3a" stroke-width="1"/>
<line x1="290.50" y1="537.30" x2="290.50" y2="538.50" stroke="#3a3a3a" stroke-width="1"/>
<line x1="286.00" y1="524.50" x2="295.00" y2="524.50" stroke="#3a3a3a" stroke-width="1"/>
<line x1="286.00" y1="538.50" x2="295.00" y2="538.50" stroke="#3a3a3a" stroke-width="1"/>
<rect x="281.00" y="526.00" width="18.60" height="11.30" fill="#e0a298"/>
<rect x="281.80" y="526.80" width="17.00" height="9.70" fill="#d38a7f"/>
<line x1="281.00" y1="534.60" x2="299.60" y2="534.60" stroke="#141414" stroke-width="1.5"/>
<path d="M283.67,522.30L284.67,518.10M284.87,522.30L285.87,518.10M283.63,519.30L286.23,519.30M283.21,521.10L285.81,521.10M287.39,522.30L288.39,518.10M288.59,522.30L289.59,518.10M287.35,519.30L289.95,519.30M286.93,521.10L289.53,521.10M291.11,522.30L292.11,518.10M292.31,522.30L293.31,518.10M291.07,519.30L293.67,519.30M290.65,521.10L293.25,521.10M294.83,522.30L295.83,518.10M296.03,522.30L297.03,518.10M294.79,519.30L297.39,519.30M294.37,521.10L296.97,521.10" fill="none" stroke="#4a4a4a" stroke-width="0.8"/>
<line x1="318.50" y1="534.50" x2="318.50" y2="533.50" stroke="#3a3a3a" stroke-width="1"/>
<line x1="318.50" y1="539.40" x2="318.50" y2="540.50" stroke="#3a3a3a" stroke-width="1"/>
<line x1="314.00" y1="534.50" x2="323.00" y2="534.50" stroke="#3a3a3a" stroke-width="1"/>
<line x1="314.00" y1="540.50" x2="323.00" y2="540.50" stroke="#3a3a3a" stroke-width="1"/>
<rect x="309.20" y="533.50" width="18.70" height="5.90" fill="#b8183c"/>
<rect x="310.00" y="534.30" width="17.10" height="4.30" fill="#a8002a"/>
<line x1="309.20" y1="537.00" x2="327.90" y2="537.00" stroke="#141414" stroke-width="1.5"/>
<path d="M311.92,530.80L312.92,526.60M313.12,530.80L314.12,526.60M311.88,527.80L314.48,527.80M311.46,529.60L314.06,529.60M315.64,530.80L316.64,526.60M316.84,530.80L317.84,526.60M315.60,527.80L318.20,527.80M315.18,529.60L317.78,529.60M319.36,530.80L320.36,526.60M320.56,530.80L321.56,526.60M319.32,527.80L321.92,527.80M318.90,529.60L321.50,529.60M323.08,530.80L324.08,526.60M324.28,530.80L325.28,526.60M323.04,527.80L325.64,527.80M322.62,529.60L325.22,529.60" fill="none" stroke="#4a4a4a" stroke-width="0.8"/>
<line x1="264.00" y1="506.20" x2="317.90" y2="506.20" stroke="#555555" stroke-width="1.2"/>
<circle cx="286.85" cy="502.70" r="1.0" fill="#333"/>
<circle cx="289.75" cy="502.70" r="1.0" fill="#333"/>
<circle cx="292.65" cy="502.70" r="1.0" fill="#333"/>
<circle cx="295.55" cy="502.70" r="1.0" fill="#333"/>
<text x="443.10" y="476.30" font-size="8.6" text-anchor="start" fill="#262626" color="#262626" textLength="18.30" lengthAdjust="spacingAndGlyphs">RDW</text>
<line x1="391.20" y1="481.30" x2="391.20" y2="561.75" stroke="#333333" stroke-width="1.5"/>
<line x1="390.45" y1="561.00" x2="513.60" y2="561.00" stroke="#333333" stroke-width="1.5"/>
<line x1="388.20" y1="561.00" x2="391.20" y2="561.00" stroke="#333333" stroke-width="1"/>
<text x="385.70" y="564.00" font-size="8.6" text-anchor="end" fill="#262626" color="#262626">0</text>
<line x1="388.20" y1="545.62" x2="391.20" y2="545.62" stroke="#333333" stroke-width="1"/>
<text x="385.70" y="548.62" font-size="8.6" text-anchor="end" fill="#262626" color="#262626">10</text>
<line x1="388.20" y1="530.24" x2="391.20" y2="530.24" stroke="#333333" stroke-width="1"/>
<text x="385.70" y="533.24" font-size="8.6" text-anchor="end" fill="#262626" color="#262626">20</text>
<line x1="388.20" y1="514.86" x2="391.20" y2="514.86" stroke="#333333" stroke-width="1"/>
<text x="385.70" y="517.86" font-size="8.6" text-anchor="end" fill="#262626" color="#262626">30</text>
<line x1="388.20" y1="499.48" x2="391.20" y2="499.48" stroke="#333333" stroke-width="1"/>
<text x="385.70" y="502.48" font-size="8.6" text-anchor="end" fill="#262626" color="#262626">40</text>
<line x1="388.20" y1="484.10" x2="391.20" y2="484.10" stroke="#333333" stroke-width="1"/>
<text x="385.70" y="487.10" font-size="8.6" text-anchor="end" fill="#262626" color="#262626">50</text>
<line x1="409.50" y1="561.00" x2="409.50" y2="563.80" stroke="#333333" stroke-width="1"/>
<line x1="437.30" y1="561.00" x2="437.30" y2="563.80" stroke="#333333" stroke-width="1"/>
<line x1="465.30" y1="561.00" x2="465.30" y2="563.80" stroke="#333333" stroke-width="1"/>
<line x1="493.50" y1="561.00" x2="493.50" y2="563.80" stroke="#333333" stroke-width="1"/>
<text x="409.50" y="574.50" font-size="8.8" text-anchor="middle" fill="#262626" color="#262626" textLength="23.40" lengthAdjust="spacingAndGlyphs">IgG2A</text>
<text x="436.65" y="574.50" font-size="8.8" text-anchor="middle" fill="#262626" color="#262626" textLength="24.10" lengthAdjust="spacingAndGlyphs">IgG2A</text>
<text x="465.20" y="574.50" font-size="8.8" text-anchor="middle" fill="#262626" color="#262626" textLength="14.80" lengthAdjust="spacingAndGlyphs">15.1</text>
<text x="492.90" y="574.50" font-size="8.8" text-anchor="middle" fill="#262626" color="#262626" textLength="15.40" lengthAdjust="spacingAndGlyphs">20.1</text>
<line x1="427.00" y1="579.20" x2="504.00" y2="579.20" stroke="#333" stroke-width="1.2"/>
<text x="409.65" y="589.00" font-size="8.8" text-anchor="middle" fill="#262626" color="#262626" textLength="12.30" lengthAdjust="spacingAndGlyphs">WT</text>
<text x="465.90" y="589.00" font-size="8.8" text-anchor="middle" fill="#262626" color="#262626" textLength="42.20" lengthAdjust="spacingAndGlyphs">Hbb(th3/+)</text>
<text transform="translate(370.10,520.70) rotate(-90)" x="0" y="0" font-size="7.9" text-anchor="middle" fill="#333" color="#333" textLength="19.40" lengthAdjust="spacingAndGlyphs">RDW %</text>
<line x1="409.50" y1="541.50" x2="409.50" y2="542.30" stroke="#3a3a3a" stroke-width="1"/>
<line x1="409.50" y1="543.50" x2="409.50" y2="544.50" stroke="#3a3a3a" stroke-width="1"/>
<line x1="405.00" y1="541.50" x2="414.00" y2="541.50" stroke="#3a3a3a" stroke-width="1"/>
<line x1="405.00" y1="544.50" x2="414.00" y2="544.50" stroke="#3a3a3a" stroke-width="1"/>
<rect x="400.40" y="542.30" width="18.30" height="1.20" fill="#213d72"/>
<line x1="400.40" y1="542.90" x2="418.70" y2="542.90" stroke="#141414" stroke-width="1.5"/>
<line x1="437.50" y1="512.50" x2="437.50" y2="512.00" stroke="#3a3a3a" stroke-width="1"/>
<line x1="437.50" y1="513.00" x2="437.50" y2="513.50" stroke="#3a3a3a" stroke-width="1"/>
<line x1="433.00" y1="512.50" x2="442.00" y2="512.50" stroke="#3a3a3a" stroke-width="1"/>
<line x1="433.00" y1="513.50" x2="442.00" y2="513.50" stroke="#3a3a3a" stroke-width="1"/>
<rect x="428.00" y="512.00" width="18.70" height="1.00" fill="#8c93c2"/>
<line x1="428.00" y1="512.30" x2="446.70" y2="512.30" stroke="#141414" stroke-width="1.5"/>
<path d="M430.72,508.60L431.72,504.40M431.92,508.60L432.92,504.40M430.68,505.60L433.28,505.60M430.26,507.40L432.86,507.40M434.44,508.60L435.44,504.40M435.64,508.60L436.64,504.40M434.40,505.60L437.00,505.60M433.98,507.40L436.58,507.40M438.16,508.60L439.16,504.40M439.36,508.60L440.36,504.40M438.12,505.60L440.72,505.60M437.70,507.40L440.30,507.40M441.88,508.60L442.88,504.40M443.08,508.60L444.08,504.40M441.84,505.60L444.44,505.60M441.42,507.40L444.02,507.40" fill="none" stroke="#4a4a4a" stroke-width="0.8"/>
<line x1="465.50" y1="515.50" x2="465.50" y2="518.30" stroke="#3a3a3a" stroke-width="1"/>
<line x1="465.50" y1="519.00" x2="465.50" y2="524.50" stroke="#3a3a3a" stroke-width="1"/>
<line x1="461.00" y1="515.50" x2="470.00" y2="515.50" stroke="#3a3a3a" stroke-width="1"/>
<line x1="461.00" y1="524.50" x2="470.00" y2="524.50" stroke="#3a3a3a" stroke-width="1"/>
<rect x="456.00" y="518.30" width="18.60" height="0.80" fill="#e0a298"/>
<line x1="456.00" y1="519.00" x2="474.60" y2="519.00" stroke="#141414" stroke-width="1.5"/>
<path d="M458.67,513.60L459.67,509.40M459.87,513.60L460.87,509.40M458.63,510.60L461.23,510.60M458.21,512.40L460.81,512.40M462.39,513.60L463.39,509.40M463.59,513.60L464.59,509.40M462.35,510.60L464.95,510.60M461.93,512.40L464.53,512.40M466.11,513.60L467.11,509.40M467.31,513.60L468.31,509.40M466.07,510.60L468.67,510.60M465.65,512.40L468.25,512.40M469.83,513.60L470.83,509.40M471.03,513.60L472.03,509.40M469.79,510.60L472.39,510.60M469.37,512.40L471.97,512.40" fill="none" stroke="#4a4a4a" stroke-width="0.8"/>
<line x1="493.50" y1="516.50" x2="493.50" y2="517.70" stroke="#3a3a3a" stroke-width="1"/>
<line x1="493.50" y1="519.60" x2="493.50" y2="521.50" stroke="#3a3a3a" stroke-width="1"/>
<line x1="489.00" y1="516.50" x2="498.00" y2="516.50" stroke="#3a3a3a" stroke-width="1"/>
<line x1="489.00" y1="521.50" x2="498.00" y2="521.50" stroke="#3a3a3a" stroke-width="1"/>
<rect x="484.20" y="517.70" width="18.70" height="1.90" fill="#b8183c"/>
<line x1="484.20" y1="518.30" x2="502.90" y2="518.30" stroke="#141414" stroke-width="1.5"/>
<path d="M486.92,514.60L487.92,510.40M488.12,514.60L489.12,510.40M486.88,511.60L489.48,511.60M486.46,513.40L489.06,513.40M490.64,514.60L491.64,510.40M491.84,514.60L492.84,510.40M490.60,511.60L493.20,511.60M490.18,513.40L492.78,513.40M494.36,514.60L495.36,510.40M495.56,514.60L496.56,510.40M494.32,511.60L496.92,511.60M493.90,513.40L496.50,513.40M498.08,514.60L499.08,510.40M499.28,514.60L500.28,510.40M498.04,511.60L500.64,511.60M497.62,513.40L500.22,513.40" fill="none" stroke="#4a4a4a" stroke-width="0.8"/>
<line x1="436.50" y1="489.80" x2="490.00" y2="489.80" stroke="#555555" stroke-width="1.2"/>
<circle cx="458.85" cy="486.30" r="1.0" fill="#333"/>
<circle cx="461.75" cy="486.30" r="1.0" fill="#333"/>
<circle cx="464.65" cy="486.30" r="1.0" fill="#333"/>
<circle cx="467.55" cy="486.30" r="1.0" fill="#333"/>
<line x1="435.20" y1="497.90" x2="465.40" y2="497.90" stroke="#555555" stroke-width="1.2"/>
<circle cx="445.95" cy="494.60" r="1.0" fill="#333"/>
<circle cx="448.85" cy="494.60" r="1.0" fill="#333"/>
<circle cx="451.75" cy="494.60" r="1.0" fill="#333"/>
<circle cx="454.65" cy="494.60" r="1.0" fill="#333"/>
<text x="7.50" y="17.70" font-size="11.4" text-anchor="start" fill="#000" color="#000" textLength="8.90" lengthAdjust="spacingAndGlyphs" font-weight="bold" stroke="#000" stroke-width="0.35">A</text>
<text x="184.60" y="18.90" font-size="11.4" text-anchor="start" fill="#000" color="#000" textLength="7.90" lengthAdjust="spacingAndGlyphs" font-weight="bold" stroke="#000" stroke-width="0.35">B</text>
<text x="7.60" y="170.40" font-size="11.4" text-anchor="start" fill="#000" color="#000" textLength="7.80" lengthAdjust="spacingAndGlyphs" font-weight="bold" stroke="#000" stroke-width="0.35">C</text>
<text x="353.50" y="169.90" font-size="11.4" text-anchor="start" fill="#000" color="#000" textLength="9.20" lengthAdjust="spacingAndGlyphs" font-weight="bold" stroke="#000" stroke-width="0.35">D</text>
<text x="7.70" y="328.80" font-size="11.4" text-anchor="start" fill="#000" color="#000" textLength="6.90" lengthAdjust="spacingAndGlyphs" font-weight="bold" stroke="#000" stroke-width="0.35">E</text>
</svg></div></body></html>
